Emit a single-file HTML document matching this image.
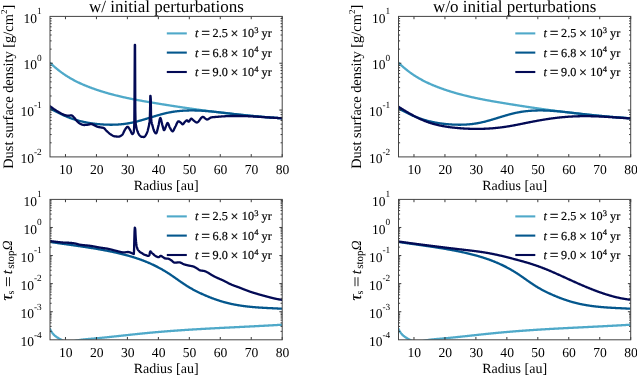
<!DOCTYPE html>
<html><head><meta charset="utf-8"><style>
html,body{margin:0;padding:0;background:#fff;overflow:hidden}
svg{display:block;will-change:transform;text-rendering:geometricPrecision}
</style></head><body>
<svg width="637" height="375" viewBox="0 0 637 375" font-family='"Liberation Serif", serif' fill="#000">
<defs>
<clipPath id="ctl"><rect x="50.00" y="16.40" width="232.20" height="140.50"/></clipPath>
<clipPath id="ctr"><rect x="398.50" y="16.40" width="232.20" height="140.50"/></clipPath>
<clipPath id="cbl"><rect x="50.00" y="199.40" width="232.20" height="140.40"/></clipPath>
<clipPath id="cbr"><rect x="398.50" y="199.40" width="232.20" height="140.40"/></clipPath>
</defs>
<rect width="637" height="375" fill="#fff"/>
<g clip-path="url(#ctl)">
<path d="M49.80,62.53 L50.30,63.02 L50.80,63.50 L51.30,63.97 L51.80,64.44 L52.30,64.90 L52.80,65.36 L53.30,65.81 L53.80,66.25 L54.30,66.69 L54.80,67.13 L55.30,67.55 L55.80,67.98 L56.30,68.40 L56.80,68.81 L57.30,69.22 L57.80,69.62 L58.30,70.02 L58.80,70.41 L59.30,70.80 L59.80,71.18 L60.30,71.56 L60.80,71.93 L61.30,72.30 L61.80,72.67 L62.30,73.02 L62.80,73.38 L63.30,73.73 L63.80,74.08 L64.30,74.42 L64.80,74.75 L65.30,75.09 L65.80,75.42 L66.30,75.74 L66.80,76.06 L67.30,76.38 L67.80,76.69 L68.30,77.00 L68.80,77.30 L69.30,77.60 L69.80,77.90 L70.30,78.19 L70.80,78.48 L71.30,78.77 L71.80,79.05 L72.30,79.33 L72.80,79.60 L73.30,79.88 L73.80,80.14 L74.30,80.41 L74.80,80.67 L75.30,80.93 L75.80,81.19 L76.30,81.44 L76.80,81.69 L77.30,81.94 L77.80,82.18 L78.30,82.42 L78.80,82.66 L79.30,82.89 L79.80,83.13 L80.30,83.36 L80.80,83.58 L81.30,83.81 L81.80,84.03 L82.30,84.25 L82.80,84.47 L83.30,84.69 L83.80,84.90 L84.30,85.11 L84.80,85.32 L85.30,85.53 L85.80,85.73 L86.30,85.93 L86.80,86.13 L87.30,86.33 L87.80,86.53 L88.30,86.73 L88.80,86.92 L89.30,87.11 L89.80,87.30 L90.30,87.49 L90.80,87.68 L91.30,87.87 L91.80,88.05 L92.30,88.23 L92.80,88.41 L93.30,88.59 L93.80,88.77 L94.30,88.95 L94.80,89.13 L95.30,89.30 L95.80,89.47 L96.30,89.65 L96.80,89.82 L97.30,89.99 L97.80,90.15 L98.30,90.32 L98.80,90.48 L99.30,90.65 L99.80,90.81 L100.30,90.97 L100.80,91.13 L101.30,91.29 L101.80,91.45 L102.30,91.60 L102.80,91.76 L103.30,91.91 L103.80,92.06 L104.30,92.21 L104.80,92.36 L105.30,92.51 L105.80,92.66 L106.30,92.80 L106.80,92.95 L107.30,93.09 L107.80,93.24 L108.30,93.38 L108.80,93.52 L109.30,93.66 L109.80,93.80 L110.30,93.93 L110.80,94.07 L111.30,94.20 L111.80,94.34 L112.30,94.47 L112.80,94.60 L113.30,94.73 L113.80,94.86 L114.30,94.99 L114.80,95.12 L115.30,95.25 L115.80,95.37 L116.30,95.50 L116.80,95.62 L117.30,95.74 L117.80,95.87 L118.30,95.99 L118.80,96.11 L119.30,96.23 L119.80,96.35 L120.30,96.46 L120.80,96.58 L121.30,96.70 L121.80,96.81 L122.30,96.92 L122.80,97.04 L123.30,97.15 L123.80,97.26 L124.30,97.37 L124.80,97.48 L125.30,97.59 L125.80,97.70 L126.30,97.81 L126.80,97.92 L127.30,98.02 L127.80,98.13 L128.30,98.23 L128.80,98.34 L129.30,98.44 L129.80,98.54 L130.30,98.65 L130.80,98.75 L131.30,98.85 L131.80,98.95 L132.30,99.05 L132.80,99.15 L133.30,99.24 L133.80,99.34 L134.30,99.44 L134.80,99.54 L135.30,99.63 L135.80,99.73 L136.30,99.82 L136.80,99.92 L137.30,100.01 L137.80,100.10 L138.30,100.20 L138.80,100.29 L139.30,100.38 L139.80,100.47 L140.30,100.56 L140.80,100.65 L141.30,100.74 L141.80,100.83 L142.30,100.92 L142.80,101.01 L143.30,101.10 L143.80,101.19 L144.30,101.28 L144.80,101.36 L145.30,101.45 L145.80,101.54 L146.30,101.62 L146.80,101.71 L147.30,101.80 L147.80,101.88 L148.30,101.97 L148.80,102.05 L149.30,102.14 L149.80,102.22 L150.30,102.30 L150.80,102.39 L151.30,102.47 L151.80,102.56 L152.30,102.64 L152.80,102.72 L153.30,102.80 L153.80,102.89 L154.30,102.97 L154.80,103.05 L155.30,103.13 L155.80,103.22 L156.30,103.30 L156.80,103.38 L157.30,103.46 L157.80,103.54 L158.30,103.63 L158.80,103.71 L159.30,103.79 L159.80,103.87 L160.30,103.95 L160.80,104.03 L161.30,104.11 L161.80,104.19 L162.30,104.27 L162.80,104.35 L163.30,104.43 L163.80,104.51 L164.30,104.59 L164.80,104.67 L165.30,104.75 L165.80,104.83 L166.30,104.91 L166.80,104.99 L167.30,105.07 L167.80,105.15 L168.30,105.23 L168.80,105.31 L169.30,105.38 L169.80,105.46 L170.30,105.54 L170.80,105.62 L171.30,105.70 L171.80,105.77 L172.30,105.85 L172.80,105.93 L173.30,106.01 L173.80,106.08 L174.30,106.16 L174.80,106.24 L175.30,106.32 L175.80,106.39 L176.30,106.47 L176.80,106.54 L177.30,106.62 L177.80,106.70 L178.30,106.77 L178.80,106.85 L179.30,106.92 L179.80,107.00 L180.30,107.07 L180.80,107.15 L181.30,107.22 L181.80,107.30 L182.30,107.37 L182.80,107.45 L183.30,107.52 L183.80,107.60 L184.30,107.67 L184.80,107.74 L185.30,107.82 L185.80,107.89 L186.30,107.97 L186.80,108.04 L187.30,108.11 L187.80,108.18 L188.30,108.26 L188.80,108.33 L189.30,108.40 L189.80,108.47 L190.30,108.55 L190.80,108.62 L191.30,108.69 L191.80,108.76 L192.30,108.83 L192.80,108.90 L193.30,108.97 L193.80,109.05 L194.30,109.12 L194.80,109.19 L195.30,109.26 L195.80,109.33 L196.30,109.40 L196.80,109.47 L197.30,109.54 L197.80,109.61 L198.30,109.67 L198.80,109.74 L199.30,109.81 L199.80,109.88 L200.30,109.95 L200.80,110.02 L201.30,110.09 L201.80,110.15 L202.30,110.22 L202.80,110.29 L203.30,110.36 L203.80,110.42 L204.30,110.49 L204.80,110.56 L205.30,110.62 L205.80,110.69 L206.30,110.76 L206.80,110.82 L207.30,110.89 L207.80,110.96 L208.30,111.02 L208.80,111.09 L209.30,111.15 L209.80,111.22 L210.30,111.28 L210.80,111.35 L211.30,111.41 L211.80,111.47 L212.30,111.54 L212.80,111.60 L213.30,111.67 L213.80,111.73 L214.30,111.79 L214.80,111.85 L215.30,111.92 L215.80,111.98 L216.30,112.04 L216.80,112.10 L217.30,112.17 L217.80,112.23 L218.30,112.29 L218.80,112.35 L219.30,112.41 L219.80,112.47 L220.30,112.53 L220.80,112.59 L221.30,112.65 L221.80,112.71 L222.30,112.77 L222.80,112.83 L223.30,112.89 L223.80,112.95 L224.30,113.01 L224.80,113.07 L225.30,113.13 L225.80,113.19 L226.30,113.25 L226.80,113.30 L227.30,113.36 L227.80,113.42 L228.30,113.48 L228.80,113.53 L229.30,113.59 L229.80,113.65 L230.30,113.70 L230.80,113.76 L231.30,113.82 L231.80,113.87 L232.30,113.93 L232.80,113.98 L233.30,114.04 L233.80,114.09 L234.30,114.15 L234.80,114.20 L235.30,114.26 L235.80,114.31 L236.30,114.36 L236.80,114.42 L237.30,114.47 L237.80,114.52 L238.30,114.58 L238.80,114.63 L239.30,114.68 L239.80,114.73 L240.30,114.79 L240.80,114.84 L241.30,114.89 L241.80,114.94 L242.30,114.99 L242.80,115.04 L243.30,115.09 L243.80,115.14 L244.30,115.19 L244.80,115.24 L245.30,115.29 L245.80,115.34 L246.30,115.39 L246.80,115.44 L247.30,115.49 L247.80,115.54 L248.30,115.58 L248.80,115.63 L249.30,115.68 L249.80,115.73 L250.30,115.78 L250.80,115.82 L251.30,115.87 L251.80,115.91 L252.30,115.96 L252.80,116.01 L253.30,116.05 L253.80,116.10 L254.30,116.14 L254.80,116.19 L255.30,116.23 L255.80,116.28 L256.30,116.32 L256.80,116.37 L257.30,116.41 L257.80,116.45 L258.30,116.50 L258.80,116.54 L259.30,116.58 L259.80,116.62 L260.30,116.67 L260.80,116.71 L261.30,116.75 L261.80,116.79 L262.30,116.83 L262.80,116.87 L263.30,116.91 L263.80,116.95 L264.30,116.99 L264.80,117.03 L265.30,117.07 L265.80,117.11 L266.30,117.15 L266.80,117.19 L267.30,117.23 L267.80,117.27 L268.30,117.30 L268.80,117.34 L269.30,117.38 L269.80,117.42 L270.30,117.45 L270.80,117.49 L271.30,117.53 L271.80,117.56 L272.30,117.60 L272.80,117.63 L273.30,117.67 L273.80,117.70 L274.30,117.74 L274.80,117.77 L275.30,117.81 L275.80,117.84 L276.30,117.87 L276.80,117.91 L277.30,117.94 L277.80,117.97 L278.30,118.00 L278.80,118.04 L279.30,118.07 L279.80,118.10 L280.30,118.13 L280.80,118.16 L281.30,118.19 L281.80,118.22 L282.20,118.25" stroke="#4fa9c9" fill="none" stroke-width="2.3" stroke-linejoin="round" stroke-linecap="butt"/>
<path d="M49.80,108.47 L50.30,108.73 L50.80,108.99 L51.30,109.25 L51.80,109.52 L52.30,109.78 L52.80,110.04 L53.30,110.30 L53.80,110.55 L54.30,110.81 L54.80,111.07 L55.30,111.32 L55.80,111.58 L56.30,111.83 L56.80,112.08 L57.30,112.33 L57.80,112.58 L58.30,112.82 L58.80,113.07 L59.30,113.31 L59.80,113.55 L60.30,113.79 L60.80,114.02 L61.30,114.26 L61.80,114.49 L62.30,114.72 L62.80,114.95 L63.30,115.18 L63.80,115.40 L64.30,115.62 L64.80,115.84 L65.30,116.06 L65.80,116.27 L66.30,116.48 L66.80,116.69 L67.30,116.89 L67.80,117.09 L68.30,117.29 L68.80,117.49 L69.30,117.68 L69.80,117.87 L70.30,118.05 L70.80,118.23 L71.30,118.41 L71.80,118.59 L72.30,118.76 L72.80,118.93 L73.30,119.10 L73.80,119.26 L74.30,119.42 L74.80,119.58 L75.30,119.74 L75.80,119.89 L76.30,120.04 L76.80,120.18 L77.30,120.33 L77.80,120.47 L78.30,120.60 L78.80,120.74 L79.30,120.87 L79.80,121.00 L80.30,121.13 L80.80,121.25 L81.30,121.37 L81.80,121.49 L82.30,121.61 L82.80,121.72 L83.30,121.83 L83.80,121.94 L84.30,122.05 L84.80,122.15 L85.30,122.25 L85.80,122.35 L86.30,122.45 L86.80,122.54 L87.30,122.63 L87.80,122.72 L88.30,122.81 L88.80,122.89 L89.30,122.97 L89.80,123.06 L90.30,123.13 L90.80,123.21 L91.30,123.28 L91.80,123.36 L92.30,123.43 L92.80,123.49 L93.30,123.56 L93.80,123.62 L94.30,123.69 L94.80,123.75 L95.30,123.80 L95.80,123.86 L96.30,123.91 L96.80,123.97 L97.30,124.02 L97.80,124.07 L98.30,124.11 L98.80,124.16 L99.30,124.20 L99.80,124.25 L100.30,124.29 L100.80,124.33 L101.30,124.36 L101.80,124.40 L102.30,124.44 L102.80,124.47 L103.30,124.50 L103.80,124.53 L104.30,124.55 L104.80,124.58 L105.30,124.60 L105.80,124.63 L106.30,124.64 L106.80,124.66 L107.30,124.68 L107.80,124.69 L108.30,124.71 L108.80,124.72 L109.30,124.72 L109.80,124.73 L110.30,124.73 L110.80,124.74 L111.30,124.74 L111.80,124.73 L112.30,124.73 L112.80,124.72 L113.30,124.71 L113.80,124.70 L114.30,124.69 L114.80,124.68 L115.30,124.66 L115.80,124.64 L116.30,124.62 L116.80,124.59 L117.30,124.57 L117.80,124.54 L118.30,124.50 L118.80,124.47 L119.30,124.43 L119.80,124.40 L120.30,124.36 L120.80,124.31 L121.30,124.27 L121.80,124.22 L122.30,124.17 L122.80,124.11 L123.30,124.06 L123.80,124.00 L124.30,123.93 L124.80,123.87 L125.30,123.80 L125.80,123.73 L126.30,123.66 L126.80,123.59 L127.30,123.51 L127.80,123.43 L128.30,123.34 L128.80,123.26 L129.30,123.17 L129.80,123.08 L130.30,122.98 L130.80,122.88 L131.30,122.78 L131.80,122.68 L132.30,122.57 L132.80,122.47 L133.30,122.35 L133.80,122.24 L134.30,122.12 L134.80,122.00 L135.30,121.88 L135.80,121.76 L136.30,121.63 L136.80,121.51 L137.30,121.38 L137.80,121.25 L138.30,121.11 L138.80,120.98 L139.30,120.84 L139.80,120.70 L140.30,120.56 L140.80,120.42 L141.30,120.28 L141.80,120.14 L142.30,119.99 L142.80,119.84 L143.30,119.70 L143.80,119.55 L144.30,119.40 L144.80,119.25 L145.30,119.10 L145.80,118.95 L146.30,118.80 L146.80,118.64 L147.30,118.49 L147.80,118.34 L148.30,118.18 L148.80,118.03 L149.30,117.87 L149.80,117.72 L150.30,117.57 L150.80,117.41 L151.30,117.26 L151.80,117.10 L152.30,116.95 L152.80,116.80 L153.30,116.64 L153.80,116.49 L154.30,116.34 L154.80,116.19 L155.30,116.04 L155.80,115.89 L156.30,115.74 L156.80,115.59 L157.30,115.45 L157.80,115.30 L158.30,115.16 L158.80,115.02 L159.30,114.88 L159.80,114.74 L160.30,114.60 L160.80,114.46 L161.30,114.32 L161.80,114.19 L162.30,114.06 L162.80,113.93 L163.30,113.80 L163.80,113.68 L164.30,113.55 L164.80,113.43 L165.30,113.31 L165.80,113.20 L166.30,113.08 L166.80,112.97 L167.30,112.86 L167.80,112.75 L168.30,112.65 L168.80,112.55 L169.30,112.45 L169.80,112.36 L170.30,112.26 L170.80,112.17 L171.30,112.08 L171.80,112.00 L172.30,111.92 L172.80,111.84 L173.30,111.76 L173.80,111.68 L174.30,111.61 L174.80,111.54 L175.30,111.47 L175.80,111.41 L176.30,111.35 L176.80,111.29 L177.30,111.23 L177.80,111.17 L178.30,111.12 L178.80,111.07 L179.30,111.02 L179.80,110.97 L180.30,110.93 L180.80,110.88 L181.30,110.84 L181.80,110.80 L182.30,110.77 L182.80,110.73 L183.30,110.70 L183.80,110.67 L184.30,110.64 L184.80,110.62 L185.30,110.59 L185.80,110.57 L186.30,110.55 L186.80,110.53 L187.30,110.52 L187.80,110.50 L188.30,110.49 L188.80,110.48 L189.30,110.47 L189.80,110.46 L190.30,110.46 L190.80,110.45 L191.30,110.45 L191.80,110.45 L192.30,110.45 L192.80,110.45 L193.30,110.46 L193.80,110.46 L194.30,110.47 L194.80,110.48 L195.30,110.49 L195.80,110.50 L196.30,110.52 L196.80,110.53 L197.30,110.55 L197.80,110.57 L198.30,110.58 L198.80,110.60 L199.30,110.63 L199.80,110.65 L200.30,110.67 L200.80,110.70 L201.30,110.72 L201.80,110.75 L202.30,110.78 L202.80,110.81 L203.30,110.84 L203.80,110.88 L204.30,110.91 L204.80,110.94 L205.30,110.98 L205.80,111.02 L206.30,111.05 L206.80,111.09 L207.30,111.13 L207.80,111.17 L208.30,111.21 L208.80,111.25 L209.30,111.30 L209.80,111.34 L210.30,111.39 L210.80,111.43 L211.30,111.48 L211.80,111.52 L212.30,111.57 L212.80,111.62 L213.30,111.67 L213.80,111.72 L214.30,111.77 L214.80,111.82 L215.30,111.87 L215.80,111.92 L216.30,111.97 L216.80,112.03 L217.30,112.08 L217.80,112.13 L218.30,112.19 L218.80,112.24 L219.30,112.30 L219.80,112.35 L220.30,112.41 L220.80,112.47 L221.30,112.52 L221.80,112.58 L222.30,112.64 L222.80,112.69 L223.30,112.75 L223.80,112.81 L224.30,112.87 L224.80,112.92 L225.30,112.98 L225.80,113.04 L226.30,113.10 L226.80,113.16 L227.30,113.21 L227.80,113.27 L228.30,113.33 L228.80,113.39 L229.30,113.44 L229.80,113.50 L230.30,113.56 L230.80,113.62 L231.30,113.68 L231.80,113.73 L232.30,113.79 L232.80,113.85 L233.30,113.90 L233.80,113.96 L234.30,114.02 L234.80,114.07 L235.30,114.13 L235.80,114.19 L236.30,114.24 L236.80,114.30 L237.30,114.35 L237.80,114.41 L238.30,114.46 L238.80,114.52 L239.30,114.57 L239.80,114.63 L240.30,114.68 L240.80,114.74 L241.30,114.79 L241.80,114.84 L242.30,114.90 L242.80,114.95 L243.30,115.01 L243.80,115.06 L244.30,115.11 L244.80,115.16 L245.30,115.22 L245.80,115.27 L246.30,115.32 L246.80,115.37 L247.30,115.42 L247.80,115.48 L248.30,115.53 L248.80,115.58 L249.30,115.63 L249.80,115.68 L250.30,115.73 L250.80,115.78 L251.30,115.83 L251.80,115.88 L252.30,115.93 L252.80,115.98 L253.30,116.02 L253.80,116.07 L254.30,116.12 L254.80,116.17 L255.30,116.22 L255.80,116.26 L256.30,116.31 L256.80,116.36 L257.30,116.40 L257.80,116.45 L258.30,116.50 L258.80,116.54 L259.30,116.59 L259.80,116.63 L260.30,116.68 L260.80,116.72 L261.30,116.77 L261.80,116.81 L262.30,116.85 L262.80,116.90 L263.30,116.94 L263.80,116.98 L264.30,117.02 L264.80,117.07 L265.30,117.11 L265.80,117.15 L266.30,117.19 L266.80,117.23 L267.30,117.27 L267.80,117.31 L268.30,117.35 L268.80,117.39 L269.30,117.43 L269.80,117.47 L270.30,117.50 L270.80,117.54 L271.30,117.58 L271.80,117.62 L272.30,117.65 L272.80,117.69 L273.30,117.72 L273.80,117.76 L274.30,117.79 L274.80,117.83 L275.30,117.86 L275.80,117.90 L276.30,117.93 L276.80,117.96 L277.30,118.00 L277.80,118.03 L278.30,118.06 L278.80,118.09 L279.30,118.12 L279.80,118.15 L280.30,118.18 L280.80,118.21 L281.30,118.24 L281.80,118.27 L282.20,118.29" stroke="#04578d" fill="none" stroke-width="2.3" stroke-linejoin="round" stroke-linecap="butt"/>
<path d="M49.80,106.00 L50.05,106.20 L50.30,106.40 L50.55,106.59 L50.80,106.78 L51.05,106.98 L51.30,107.17 L51.55,107.36 L51.80,107.54 L52.05,107.73 L52.30,107.92 L52.55,108.10 L52.80,108.28 L53.05,108.46 L53.30,108.64 L53.55,108.81 L53.80,108.99 L54.05,109.16 L54.30,109.33 L54.55,109.50 L54.80,109.67 L55.05,109.84 L55.30,110.00 L55.55,110.17 L55.80,110.33 L56.05,110.49 L56.30,110.65 L56.55,110.81 L56.80,110.96 L57.05,111.12 L57.30,111.27 L57.55,111.42 L57.80,111.57 L58.05,111.72 L58.30,111.87 L58.55,112.01 L58.80,112.16 L59.05,112.30 L59.30,112.44 L59.55,112.59 L59.80,112.73 L60.05,112.87 L60.30,113.01 L60.55,113.14 L60.80,113.28 L61.05,113.41 L61.30,113.54 L61.55,113.67 L61.80,113.80 L62.05,113.92 L62.30,114.04 L62.55,114.15 L62.80,114.26 L63.05,114.36 L63.30,114.47 L63.55,114.58 L63.80,114.68 L64.05,114.79 L64.30,114.89 L64.55,114.98 L64.80,115.07 L65.05,115.16 L65.30,115.23 L65.55,115.30 L65.80,115.36 L66.05,115.41 L66.30,115.45 L66.55,115.50 L66.80,115.54 L67.05,115.58 L67.30,115.61 L67.55,115.64 L67.80,115.67 L68.05,115.69 L68.30,115.70 L68.55,115.70 L68.80,115.69 L69.05,115.66 L69.30,115.62 L69.55,115.57 L69.80,115.51 L70.05,115.46 L70.30,115.40 L70.55,115.36 L70.80,115.32 L71.05,115.30 L71.30,115.30 L71.55,115.35 L71.80,115.45 L72.05,115.59 L72.30,115.77 L72.55,115.98 L72.80,116.21 L73.05,116.45 L73.30,116.70 L73.55,116.96 L73.80,117.21 L74.05,117.45 L74.30,117.71 L74.55,118.00 L74.80,118.31 L75.05,118.64 L75.30,118.99 L75.55,119.33 L75.80,119.68 L76.05,120.01 L76.30,120.33 L76.55,120.63 L76.80,120.90 L77.05,121.15 L77.30,121.40 L77.55,121.65 L77.80,121.90 L78.05,122.13 L78.30,122.36 L78.55,122.58 L78.80,122.79 L79.05,122.99 L79.30,123.18 L79.55,123.34 L79.80,123.49 L80.05,123.63 L80.30,123.75 L80.55,123.88 L80.80,124.00 L81.05,124.13 L81.30,124.25 L81.55,124.36 L81.80,124.47 L82.05,124.57 L82.30,124.67 L82.55,124.75 L82.80,124.82 L83.05,124.89 L83.30,124.94 L83.55,124.97 L83.80,124.99 L84.05,125.00 L84.30,125.00 L84.55,124.99 L84.80,124.98 L85.05,124.97 L85.30,124.96 L85.55,124.94 L85.80,124.92 L86.05,124.90 L86.30,124.88 L86.55,124.86 L86.80,124.83 L87.05,124.81 L87.30,124.78 L87.55,124.75 L87.80,124.72 L88.05,124.69 L88.30,124.65 L88.55,124.60 L88.80,124.54 L89.05,124.47 L89.30,124.40 L89.55,124.32 L89.80,124.25 L90.05,124.18 L90.30,124.11 L90.55,124.06 L90.80,124.03 L91.05,124.00 L91.30,124.00 L91.55,124.03 L91.80,124.08 L92.05,124.15 L92.30,124.25 L92.55,124.36 L92.80,124.48 L93.05,124.60 L93.30,124.74 L93.55,124.87 L93.80,125.01 L94.05,125.14 L94.30,125.26 L94.55,125.37 L94.80,125.49 L95.05,125.61 L95.30,125.74 L95.55,125.87 L95.80,126.01 L96.05,126.14 L96.30,126.27 L96.55,126.39 L96.80,126.50 L97.05,126.61 L97.30,126.70 L97.55,126.79 L97.80,126.85 L98.05,126.92 L98.30,126.97 L98.55,127.03 L98.80,127.08 L99.05,127.12 L99.30,127.17 L99.55,127.21 L99.80,127.26 L100.05,127.31 L100.30,127.36 L100.55,127.40 L100.80,127.44 L101.05,127.47 L101.30,127.51 L101.55,127.54 L101.80,127.58 L102.05,127.62 L102.30,127.66 L102.55,127.71 L102.80,127.76 L103.05,127.82 L103.30,127.88 L103.55,127.95 L103.80,128.04 L104.05,128.18 L104.30,128.37 L104.55,128.61 L104.80,128.87 L105.05,129.16 L105.30,129.47 L105.55,129.77 L105.80,130.07 L106.05,130.35 L106.30,130.60 L106.55,130.83 L106.80,131.07 L107.05,131.31 L107.30,131.54 L107.55,131.78 L107.80,132.02 L108.05,132.25 L108.30,132.48 L108.55,132.71 L108.80,132.93 L109.05,133.14 L109.30,133.35 L109.55,133.55 L109.80,133.75 L110.05,133.93 L110.30,134.10 L110.55,134.27 L110.80,134.43 L111.05,134.59 L111.30,134.75 L111.55,134.91 L111.80,135.07 L112.05,135.22 L112.30,135.38 L112.55,135.53 L112.80,135.67 L113.05,135.80 L113.30,135.92 L113.55,136.04 L113.80,136.14 L114.05,136.22 L114.30,136.30 L114.55,136.35 L114.80,136.39 L115.05,136.41 L115.30,136.43 L115.55,136.45 L115.80,136.47 L116.05,136.49 L116.30,136.51 L116.55,136.52 L116.80,136.54 L117.05,136.55 L117.30,136.56 L117.55,136.57 L117.80,136.58 L118.05,136.59 L118.30,136.59 L118.55,136.60 L118.80,136.60 L119.05,136.60 L119.30,136.58 L119.55,136.51 L119.80,136.39 L120.05,136.26 L120.30,136.11 L120.55,135.97 L120.80,135.83 L121.05,135.69 L121.30,135.53 L121.55,135.35 L121.80,135.16 L122.05,134.94 L122.30,134.70 L122.55,134.42 L122.80,134.05 L123.05,133.59 L123.30,133.08 L123.55,132.53 L123.80,131.97 L124.05,131.41 L124.30,130.88 L124.55,130.40 L124.80,130.00 L125.05,129.63 L125.30,129.24 L125.55,128.85 L125.80,128.47 L126.05,128.10 L126.30,127.76 L126.55,127.46 L126.80,127.20 L127.05,127.00 L127.30,126.86 L127.55,126.80 L127.80,126.84 L128.05,126.98 L128.30,127.21 L128.55,127.51 L128.80,127.86 L129.05,128.26 L129.30,128.67 L129.55,129.09 L129.80,129.50 L130.05,129.88 L130.30,130.32 L130.55,130.84 L130.80,131.41 L131.05,131.99 L131.30,132.56 L131.55,133.08 L131.80,133.51 L132.05,133.82 L132.30,133.98 L132.55,133.98 L132.80,133.84 L133.05,133.58 L133.30,133.21 L133.55,132.71 L133.80,131.68 L134.05,128.77 L134.30,123.09 L134.55,90.91 L134.80,45.00 L135.05,45.00 L135.30,109.69 L135.55,121.65 L135.80,124.35 L136.05,125.82 L136.30,127.00 L136.55,128.20 L136.80,129.18 L137.05,130.00 L137.30,130.73 L137.55,131.40 L137.80,132.06 L138.05,132.67 L138.30,133.24 L138.55,133.76 L138.80,134.21 L139.05,134.60 L139.30,134.92 L139.55,135.22 L139.80,135.51 L140.05,135.78 L140.30,136.03 L140.55,136.25 L140.80,136.44 L141.05,136.60 L141.30,136.72 L141.55,136.79 L141.80,136.83 L142.05,136.86 L142.30,136.89 L142.55,136.92 L142.80,136.95 L143.05,136.97 L143.30,136.98 L143.55,136.99 L143.80,137.00 L144.05,137.00 L144.30,136.93 L144.55,136.78 L144.80,136.54 L145.05,136.25 L145.30,135.90 L145.55,135.50 L145.80,135.08 L146.05,134.63 L146.30,134.18 L146.55,133.71 L146.80,133.17 L147.05,132.55 L147.30,131.86 L147.55,131.08 L147.80,130.23 L148.05,129.30 L148.30,128.30 L148.55,127.22 L148.80,126.15 L149.05,125.10 L149.30,123.79 L149.55,121.96 L149.80,119.33 L150.05,110.20 L150.30,96.00 L150.55,96.00 L150.80,99.22 L151.05,116.61 L151.30,120.03 L151.55,121.90 L151.80,123.21 L152.05,124.16 L152.30,124.96 L152.55,125.81 L152.80,126.79 L153.05,127.74 L153.30,128.65 L153.55,129.48 L153.80,130.24 L154.05,130.89 L154.30,131.42 L154.55,131.85 L154.80,132.25 L155.05,132.63 L155.30,132.95 L155.55,133.20 L155.80,133.36 L156.05,133.39 L156.30,133.20 L156.55,132.76 L156.80,132.12 L157.05,131.32 L157.30,130.39 L157.55,129.40 L157.80,128.36 L158.05,127.34 L158.30,126.37 L158.55,125.40 L158.80,124.19 L159.05,122.82 L159.30,121.42 L159.55,120.11 L159.80,119.02 L160.05,118.28 L160.30,118.00 L160.55,118.20 L160.80,118.74 L161.05,119.56 L161.30,120.56 L161.55,121.67 L161.80,122.81 L162.05,123.90 L162.30,124.87 L162.55,125.70 L162.80,126.64 L163.05,127.62 L163.30,128.55 L163.55,129.35 L163.80,129.93 L164.05,130.19 L164.30,130.12 L164.55,129.81 L164.80,129.32 L165.05,128.70 L165.30,128.00 L165.55,127.27 L165.80,126.56 L166.05,125.93 L166.30,125.39 L166.55,124.80 L166.80,124.19 L167.05,123.63 L167.30,123.21 L167.55,123.01 L167.80,123.07 L168.05,123.35 L168.30,123.80 L168.55,124.37 L168.80,125.02 L169.05,125.70 L169.30,126.38 L169.55,127.00 L169.80,127.53 L170.05,127.95 L170.30,128.38 L170.55,128.83 L170.80,129.28 L171.05,129.72 L171.30,130.13 L171.55,130.50 L171.80,130.81 L172.05,131.06 L172.30,131.22 L172.55,131.30 L172.80,131.25 L173.05,131.07 L173.30,130.76 L173.55,130.36 L173.80,129.88 L174.05,129.36 L174.30,128.80 L174.55,128.23 L174.80,127.68 L175.05,127.16 L175.30,126.70 L175.55,126.25 L175.80,125.74 L176.05,125.20 L176.30,124.65 L176.55,124.08 L176.80,123.53 L177.05,123.01 L177.30,122.53 L177.55,122.11 L177.80,121.76 L178.05,121.50 L178.30,121.34 L178.55,121.30 L178.80,121.34 L179.05,121.42 L179.30,121.54 L179.55,121.69 L179.80,121.86 L180.05,122.05 L180.30,122.26 L180.55,122.46 L180.80,122.67 L181.05,122.86 L181.30,123.07 L181.55,123.34 L181.80,123.63 L182.05,123.91 L182.30,124.14 L182.55,124.27 L182.80,124.29 L183.05,124.18 L183.30,123.97 L183.55,123.68 L183.80,123.35 L184.05,122.98 L184.30,122.62 L184.55,122.28 L184.80,122.00 L185.05,121.76 L185.30,121.51 L185.55,121.26 L185.80,121.01 L186.05,120.78 L186.30,120.58 L186.55,120.42 L186.80,120.33 L187.05,120.30 L187.30,120.43 L187.55,120.68 L187.80,121.00 L188.05,121.32 L188.30,121.57 L188.55,121.70 L188.80,121.65 L189.05,121.48 L189.30,121.20 L189.55,120.85 L189.80,120.45 L190.05,120.03 L190.30,119.63 L190.55,119.27 L190.80,118.97 L191.05,118.77 L191.30,118.70 L191.55,118.74 L191.80,118.87 L192.05,119.05 L192.30,119.27 L192.55,119.52 L192.80,119.77 L193.05,120.01 L193.30,120.23 L193.55,120.41 L193.80,120.60 L194.05,120.80 L194.30,121.01 L194.55,121.22 L194.80,121.42 L195.05,121.63 L195.30,121.82 L195.55,121.99 L195.80,122.15 L196.05,122.28 L196.30,122.39 L196.55,122.46 L196.80,122.50 L197.05,122.49 L197.30,122.43 L197.55,122.31 L197.80,122.15 L198.05,121.94 L198.30,121.70 L198.55,121.43 L198.80,121.13 L199.05,120.81 L199.30,120.47 L199.55,120.13 L199.80,119.77 L200.05,119.42 L200.30,119.06 L200.55,118.72 L200.80,118.39 L201.05,118.09 L201.30,117.80 L201.55,117.55 L201.80,117.33 L202.05,117.15 L202.30,117.01 L202.55,116.93 L202.80,116.90 L203.05,116.93 L203.30,117.00 L203.55,117.11 L203.80,117.26 L204.05,117.43 L204.30,117.63 L204.55,117.84 L204.80,118.06 L205.05,118.29 L205.30,118.51 L205.55,118.73 L205.80,118.93 L206.05,119.11 L206.30,119.26 L206.55,119.38 L206.80,119.46 L207.05,119.50 L207.30,119.49 L207.55,119.44 L207.80,119.36 L208.05,119.25 L208.30,119.12 L208.55,118.98 L208.80,118.81 L209.05,118.64 L209.30,118.47 L209.55,118.29 L209.80,118.11 L210.05,117.95 L210.30,117.80 L210.55,117.66 L210.80,117.55 L211.05,117.46 L211.30,117.40 L211.55,117.36 L211.80,117.32 L212.05,117.29 L212.30,117.25 L212.55,117.22 L212.80,117.19 L213.05,117.17 L213.30,117.14 L213.55,117.12 L213.80,117.09 L214.05,117.07 L214.30,117.05 L214.55,117.03 L214.80,117.01 L215.05,116.99 L215.30,116.98 L215.55,116.96 L215.80,116.94 L216.05,116.92 L216.30,116.91 L216.55,116.89 L216.80,116.87 L217.05,116.85 L217.30,116.83 L217.55,116.81 L217.80,116.79 L218.05,116.77 L218.30,116.75 L218.55,116.73 L218.80,116.70 L219.05,116.68 L219.30,116.66 L219.55,116.64 L219.80,116.62 L220.05,116.60 L220.30,116.57 L220.55,116.55 L220.80,116.53 L221.05,116.51 L221.30,116.49 L221.55,116.47 L221.80,116.45 L222.05,116.43 L222.30,116.41 L222.55,116.40 L222.80,116.38 L223.05,116.36 L223.30,116.35 L223.55,116.33 L223.80,116.32 L224.05,116.30 L224.30,116.29 L224.55,116.28 L224.80,116.26 L225.05,116.25 L225.30,116.24 L225.55,116.22 L225.80,116.21 L226.05,116.20 L226.30,116.18 L226.55,116.17 L226.80,116.16 L227.05,116.15 L227.30,116.13 L227.55,116.12 L227.80,116.11 L228.05,116.10 L228.30,116.09 L228.55,116.08 L228.80,116.07 L229.05,116.06 L229.30,116.05 L229.55,116.04 L229.80,116.03 L230.05,116.03 L230.30,116.02 L230.55,116.02 L230.80,116.01 L231.05,116.01 L231.30,116.00 L231.55,116.00 L231.80,116.00 L232.05,116.00 L232.30,116.00 L232.55,116.00 L232.80,116.00 L233.05,116.00 L233.30,116.00 L233.55,116.00 L233.80,116.00 L234.05,116.00 L234.30,116.00 L234.55,116.00 L234.80,116.00 L235.05,116.00 L235.30,116.00 L235.55,116.00 L235.80,116.00 L236.05,116.00 L236.30,116.00 L236.55,116.00 L236.80,116.00 L237.05,116.00 L237.30,116.00 L237.55,116.00 L237.80,116.00 L238.05,116.00 L238.30,116.00 L238.55,116.00 L238.80,116.00 L239.05,116.00 L239.30,116.00 L239.55,116.00 L239.80,116.00 L240.05,116.00 L240.30,116.00 L240.55,116.00 L240.80,116.00 L241.05,116.01 L241.30,116.01 L241.55,116.01 L241.80,116.01 L242.05,116.02 L242.30,116.02 L242.55,116.03 L242.80,116.03 L243.05,116.04 L243.30,116.05 L243.55,116.05 L243.80,116.06 L244.05,116.07 L244.30,116.08 L244.55,116.09 L244.80,116.10 L245.05,116.10 L245.30,116.11 L245.55,116.12 L245.80,116.13 L246.05,116.14 L246.30,116.15 L246.55,116.17 L246.80,116.18 L247.05,116.19 L247.30,116.20 L247.55,116.21 L247.80,116.22 L248.05,116.23 L248.30,116.25 L248.55,116.26 L248.80,116.27 L249.05,116.28 L249.30,116.30 L249.55,116.31 L249.80,116.32 L250.05,116.33 L250.30,116.35 L250.55,116.36 L250.80,116.37 L251.05,116.38 L251.30,116.40 L251.55,116.41 L251.80,116.42 L252.05,116.43 L252.30,116.45 L252.55,116.46 L252.80,116.47 L253.05,116.48 L253.30,116.50 L253.55,116.51 L253.80,116.52 L254.05,116.53 L254.30,116.54 L254.55,116.56 L254.80,116.57 L255.05,116.58 L255.30,116.60 L255.55,116.61 L255.80,116.62 L256.05,116.64 L256.30,116.65 L256.55,116.67 L256.80,116.68 L257.05,116.70 L257.30,116.71 L257.55,116.73 L257.80,116.74 L258.05,116.76 L258.30,116.77 L258.55,116.79 L258.80,116.81 L259.05,116.82 L259.30,116.84 L259.55,116.85 L259.80,116.87 L260.05,116.89 L260.30,116.90 L260.55,116.92 L260.80,116.94 L261.05,116.95 L261.30,116.97 L261.55,116.99 L261.80,117.00 L262.05,117.02 L262.30,117.04 L262.55,117.05 L262.80,117.07 L263.05,117.09 L263.30,117.10 L263.55,117.12 L263.80,117.14 L264.05,117.15 L264.30,117.17 L264.55,117.19 L264.80,117.20 L265.05,117.22 L265.30,117.24 L265.55,117.25 L265.80,117.27 L266.05,117.28 L266.30,117.30 L266.55,117.32 L266.80,117.33 L267.05,117.35 L267.30,117.36 L267.55,117.38 L267.80,117.39 L268.05,117.41 L268.30,117.42 L268.55,117.44 L268.80,117.46 L269.05,117.47 L269.30,117.49 L269.55,117.50 L269.80,117.52 L270.05,117.53 L270.30,117.55 L270.55,117.57 L270.80,117.58 L271.05,117.60 L271.30,117.61 L271.55,117.63 L271.80,117.64 L272.05,117.66 L272.30,117.68 L272.55,117.69 L272.80,117.71 L273.05,117.72 L273.30,117.74 L273.55,117.75 L273.80,117.77 L274.05,117.79 L274.30,117.80 L274.55,117.82 L274.80,117.83 L275.05,117.85 L275.30,117.86 L275.55,117.88 L275.80,117.90 L276.05,117.91 L276.30,117.93 L276.55,117.94 L276.80,117.96 L277.05,117.97 L277.30,117.99 L277.55,118.01 L277.80,118.02 L278.05,118.04 L278.30,118.05 L278.55,118.07 L278.80,118.08 L279.05,118.10 L279.30,118.12 L279.55,118.13 L279.80,118.15 L280.05,118.16 L280.30,118.18 L280.55,118.20 L280.80,118.21 L281.05,118.23 L281.30,118.24 L281.55,118.26 L281.80,118.27 L282.05,118.29 L282.20,118.30" stroke="#030a55" fill="none" stroke-width="2.3" stroke-linejoin="round" stroke-linecap="butt"/>
</g>
<g clip-path="url(#ctr)">
<path d="M398.30,62.53 L398.80,63.02 L399.30,63.50 L399.80,63.97 L400.30,64.44 L400.80,64.90 L401.30,65.36 L401.80,65.81 L402.30,66.25 L402.80,66.69 L403.30,67.13 L403.80,67.55 L404.30,67.98 L404.80,68.40 L405.30,68.81 L405.80,69.22 L406.30,69.62 L406.80,70.02 L407.30,70.41 L407.80,70.80 L408.30,71.18 L408.80,71.56 L409.30,71.93 L409.80,72.30 L410.30,72.67 L410.80,73.02 L411.30,73.38 L411.80,73.73 L412.30,74.08 L412.80,74.42 L413.30,74.75 L413.80,75.09 L414.30,75.42 L414.80,75.74 L415.30,76.06 L415.80,76.38 L416.30,76.69 L416.80,77.00 L417.30,77.30 L417.80,77.60 L418.30,77.90 L418.80,78.19 L419.30,78.48 L419.80,78.77 L420.30,79.05 L420.80,79.33 L421.30,79.60 L421.80,79.88 L422.30,80.14 L422.80,80.41 L423.30,80.67 L423.80,80.93 L424.30,81.19 L424.80,81.44 L425.30,81.69 L425.80,81.94 L426.30,82.18 L426.80,82.42 L427.30,82.66 L427.80,82.89 L428.30,83.13 L428.80,83.36 L429.30,83.58 L429.80,83.81 L430.30,84.03 L430.80,84.25 L431.30,84.47 L431.80,84.69 L432.30,84.90 L432.80,85.11 L433.30,85.32 L433.80,85.53 L434.30,85.73 L434.80,85.93 L435.30,86.13 L435.80,86.33 L436.30,86.53 L436.80,86.73 L437.30,86.92 L437.80,87.11 L438.30,87.30 L438.80,87.49 L439.30,87.68 L439.80,87.87 L440.30,88.05 L440.80,88.23 L441.30,88.41 L441.80,88.59 L442.30,88.77 L442.80,88.95 L443.30,89.13 L443.80,89.30 L444.30,89.47 L444.80,89.65 L445.30,89.82 L445.80,89.99 L446.30,90.15 L446.80,90.32 L447.30,90.48 L447.80,90.65 L448.30,90.81 L448.80,90.97 L449.30,91.13 L449.80,91.29 L450.30,91.45 L450.80,91.60 L451.30,91.76 L451.80,91.91 L452.30,92.06 L452.80,92.21 L453.30,92.36 L453.80,92.51 L454.30,92.66 L454.80,92.80 L455.30,92.95 L455.80,93.09 L456.30,93.24 L456.80,93.38 L457.30,93.52 L457.80,93.66 L458.30,93.80 L458.80,93.93 L459.30,94.07 L459.80,94.20 L460.30,94.34 L460.80,94.47 L461.30,94.60 L461.80,94.73 L462.30,94.86 L462.80,94.99 L463.30,95.12 L463.80,95.25 L464.30,95.37 L464.80,95.50 L465.30,95.62 L465.80,95.74 L466.30,95.87 L466.80,95.99 L467.30,96.11 L467.80,96.23 L468.30,96.35 L468.80,96.46 L469.30,96.58 L469.80,96.70 L470.30,96.81 L470.80,96.92 L471.30,97.04 L471.80,97.15 L472.30,97.26 L472.80,97.37 L473.30,97.48 L473.80,97.59 L474.30,97.70 L474.80,97.81 L475.30,97.92 L475.80,98.02 L476.30,98.13 L476.80,98.23 L477.30,98.34 L477.80,98.44 L478.30,98.54 L478.80,98.65 L479.30,98.75 L479.80,98.85 L480.30,98.95 L480.80,99.05 L481.30,99.15 L481.80,99.24 L482.30,99.34 L482.80,99.44 L483.30,99.54 L483.80,99.63 L484.30,99.73 L484.80,99.82 L485.30,99.92 L485.80,100.01 L486.30,100.10 L486.80,100.20 L487.30,100.29 L487.80,100.38 L488.30,100.47 L488.80,100.56 L489.30,100.65 L489.80,100.74 L490.30,100.83 L490.80,100.92 L491.30,101.01 L491.80,101.10 L492.30,101.19 L492.80,101.28 L493.30,101.36 L493.80,101.45 L494.30,101.54 L494.80,101.62 L495.30,101.71 L495.80,101.80 L496.30,101.88 L496.80,101.97 L497.30,102.05 L497.80,102.14 L498.30,102.22 L498.80,102.30 L499.30,102.39 L499.80,102.47 L500.30,102.56 L500.80,102.64 L501.30,102.72 L501.80,102.80 L502.30,102.89 L502.80,102.97 L503.30,103.05 L503.80,103.13 L504.30,103.22 L504.80,103.30 L505.30,103.38 L505.80,103.46 L506.30,103.54 L506.80,103.63 L507.30,103.71 L507.80,103.79 L508.30,103.87 L508.80,103.95 L509.30,104.03 L509.80,104.11 L510.30,104.19 L510.80,104.27 L511.30,104.35 L511.80,104.43 L512.30,104.51 L512.80,104.59 L513.30,104.67 L513.80,104.75 L514.30,104.83 L514.80,104.91 L515.30,104.99 L515.80,105.07 L516.30,105.15 L516.80,105.23 L517.30,105.31 L517.80,105.38 L518.30,105.46 L518.80,105.54 L519.30,105.62 L519.80,105.70 L520.30,105.77 L520.80,105.85 L521.30,105.93 L521.80,106.01 L522.30,106.08 L522.80,106.16 L523.30,106.24 L523.80,106.32 L524.30,106.39 L524.80,106.47 L525.30,106.54 L525.80,106.62 L526.30,106.70 L526.80,106.77 L527.30,106.85 L527.80,106.92 L528.30,107.00 L528.80,107.07 L529.30,107.15 L529.80,107.22 L530.30,107.30 L530.80,107.37 L531.30,107.45 L531.80,107.52 L532.30,107.60 L532.80,107.67 L533.30,107.74 L533.80,107.82 L534.30,107.89 L534.80,107.97 L535.30,108.04 L535.80,108.11 L536.30,108.18 L536.80,108.26 L537.30,108.33 L537.80,108.40 L538.30,108.47 L538.80,108.55 L539.30,108.62 L539.80,108.69 L540.30,108.76 L540.80,108.83 L541.30,108.90 L541.80,108.97 L542.30,109.05 L542.80,109.12 L543.30,109.19 L543.80,109.26 L544.30,109.33 L544.80,109.40 L545.30,109.47 L545.80,109.54 L546.30,109.61 L546.80,109.67 L547.30,109.74 L547.80,109.81 L548.30,109.88 L548.80,109.95 L549.30,110.02 L549.80,110.09 L550.30,110.15 L550.80,110.22 L551.30,110.29 L551.80,110.36 L552.30,110.42 L552.80,110.49 L553.30,110.56 L553.80,110.62 L554.30,110.69 L554.80,110.76 L555.30,110.82 L555.80,110.89 L556.30,110.96 L556.80,111.02 L557.30,111.09 L557.80,111.15 L558.30,111.22 L558.80,111.28 L559.30,111.35 L559.80,111.41 L560.30,111.47 L560.80,111.54 L561.30,111.60 L561.80,111.67 L562.30,111.73 L562.80,111.79 L563.30,111.85 L563.80,111.92 L564.30,111.98 L564.80,112.04 L565.30,112.10 L565.80,112.17 L566.30,112.23 L566.80,112.29 L567.30,112.35 L567.80,112.41 L568.30,112.47 L568.80,112.53 L569.30,112.59 L569.80,112.65 L570.30,112.71 L570.80,112.77 L571.30,112.83 L571.80,112.89 L572.30,112.95 L572.80,113.01 L573.30,113.07 L573.80,113.13 L574.30,113.19 L574.80,113.25 L575.30,113.30 L575.80,113.36 L576.30,113.42 L576.80,113.48 L577.30,113.53 L577.80,113.59 L578.30,113.65 L578.80,113.70 L579.30,113.76 L579.80,113.82 L580.30,113.87 L580.80,113.93 L581.30,113.98 L581.80,114.04 L582.30,114.09 L582.80,114.15 L583.30,114.20 L583.80,114.26 L584.30,114.31 L584.80,114.36 L585.30,114.42 L585.80,114.47 L586.30,114.52 L586.80,114.58 L587.30,114.63 L587.80,114.68 L588.30,114.73 L588.80,114.79 L589.30,114.84 L589.80,114.89 L590.30,114.94 L590.80,114.99 L591.30,115.04 L591.80,115.09 L592.30,115.14 L592.80,115.19 L593.30,115.24 L593.80,115.29 L594.30,115.34 L594.80,115.39 L595.30,115.44 L595.80,115.49 L596.30,115.54 L596.80,115.58 L597.30,115.63 L597.80,115.68 L598.30,115.73 L598.80,115.78 L599.30,115.82 L599.80,115.87 L600.30,115.91 L600.80,115.96 L601.30,116.01 L601.80,116.05 L602.30,116.10 L602.80,116.14 L603.30,116.19 L603.80,116.23 L604.30,116.28 L604.80,116.32 L605.30,116.37 L605.80,116.41 L606.30,116.45 L606.80,116.50 L607.30,116.54 L607.80,116.58 L608.30,116.62 L608.80,116.67 L609.30,116.71 L609.80,116.75 L610.30,116.79 L610.80,116.83 L611.30,116.87 L611.80,116.91 L612.30,116.95 L612.80,116.99 L613.30,117.03 L613.80,117.07 L614.30,117.11 L614.80,117.15 L615.30,117.19 L615.80,117.23 L616.30,117.27 L616.80,117.30 L617.30,117.34 L617.80,117.38 L618.30,117.42 L618.80,117.45 L619.30,117.49 L619.80,117.53 L620.30,117.56 L620.80,117.60 L621.30,117.63 L621.80,117.67 L622.30,117.70 L622.80,117.74 L623.30,117.77 L623.80,117.81 L624.30,117.84 L624.80,117.87 L625.30,117.91 L625.80,117.94 L626.30,117.97 L626.80,118.00 L627.30,118.04 L627.80,118.07 L628.30,118.10 L628.80,118.13 L629.30,118.16 L629.80,118.19 L630.30,118.22 L630.70,118.25" stroke="#4fa9c9" fill="none" stroke-width="2.3" stroke-linejoin="round" stroke-linecap="butt"/>
<path d="M398.30,108.47 L398.80,108.73 L399.30,108.99 L399.80,109.25 L400.30,109.52 L400.80,109.78 L401.30,110.04 L401.80,110.30 L402.30,110.55 L402.80,110.81 L403.30,111.07 L403.80,111.32 L404.30,111.58 L404.80,111.83 L405.30,112.08 L405.80,112.33 L406.30,112.58 L406.80,112.82 L407.30,113.07 L407.80,113.31 L408.30,113.55 L408.80,113.79 L409.30,114.02 L409.80,114.26 L410.30,114.49 L410.80,114.72 L411.30,114.95 L411.80,115.18 L412.30,115.40 L412.80,115.62 L413.30,115.84 L413.80,116.06 L414.30,116.27 L414.80,116.48 L415.30,116.69 L415.80,116.89 L416.30,117.09 L416.80,117.29 L417.30,117.49 L417.80,117.68 L418.30,117.87 L418.80,118.05 L419.30,118.23 L419.80,118.41 L420.30,118.59 L420.80,118.76 L421.30,118.93 L421.80,119.10 L422.30,119.26 L422.80,119.42 L423.30,119.58 L423.80,119.74 L424.30,119.89 L424.80,120.04 L425.30,120.18 L425.80,120.33 L426.30,120.47 L426.80,120.60 L427.30,120.74 L427.80,120.87 L428.30,121.00 L428.80,121.13 L429.30,121.25 L429.80,121.37 L430.30,121.49 L430.80,121.61 L431.30,121.72 L431.80,121.83 L432.30,121.94 L432.80,122.05 L433.30,122.15 L433.80,122.25 L434.30,122.35 L434.80,122.45 L435.30,122.54 L435.80,122.63 L436.30,122.72 L436.80,122.81 L437.30,122.89 L437.80,122.97 L438.30,123.06 L438.80,123.13 L439.30,123.21 L439.80,123.28 L440.30,123.36 L440.80,123.43 L441.30,123.49 L441.80,123.56 L442.30,123.62 L442.80,123.69 L443.30,123.75 L443.80,123.80 L444.30,123.86 L444.80,123.91 L445.30,123.97 L445.80,124.02 L446.30,124.07 L446.80,124.11 L447.30,124.16 L447.80,124.20 L448.30,124.25 L448.80,124.29 L449.30,124.33 L449.80,124.36 L450.30,124.40 L450.80,124.44 L451.30,124.47 L451.80,124.50 L452.30,124.53 L452.80,124.55 L453.30,124.58 L453.80,124.60 L454.30,124.63 L454.80,124.64 L455.30,124.66 L455.80,124.68 L456.30,124.69 L456.80,124.71 L457.30,124.72 L457.80,124.72 L458.30,124.73 L458.80,124.73 L459.30,124.74 L459.80,124.74 L460.30,124.73 L460.80,124.73 L461.30,124.72 L461.80,124.71 L462.30,124.70 L462.80,124.69 L463.30,124.68 L463.80,124.66 L464.30,124.64 L464.80,124.62 L465.30,124.59 L465.80,124.57 L466.30,124.54 L466.80,124.50 L467.30,124.47 L467.80,124.43 L468.30,124.40 L468.80,124.36 L469.30,124.31 L469.80,124.27 L470.30,124.22 L470.80,124.17 L471.30,124.11 L471.80,124.06 L472.30,124.00 L472.80,123.93 L473.30,123.87 L473.80,123.80 L474.30,123.73 L474.80,123.66 L475.30,123.59 L475.80,123.51 L476.30,123.43 L476.80,123.34 L477.30,123.26 L477.80,123.17 L478.30,123.08 L478.80,122.98 L479.30,122.88 L479.80,122.78 L480.30,122.68 L480.80,122.57 L481.30,122.47 L481.80,122.35 L482.30,122.24 L482.80,122.12 L483.30,122.00 L483.80,121.88 L484.30,121.76 L484.80,121.63 L485.30,121.51 L485.80,121.38 L486.30,121.25 L486.80,121.11 L487.30,120.98 L487.80,120.84 L488.30,120.70 L488.80,120.56 L489.30,120.42 L489.80,120.28 L490.30,120.14 L490.80,119.99 L491.30,119.84 L491.80,119.70 L492.30,119.55 L492.80,119.40 L493.30,119.25 L493.80,119.10 L494.30,118.95 L494.80,118.80 L495.30,118.64 L495.80,118.49 L496.30,118.34 L496.80,118.18 L497.30,118.03 L497.80,117.87 L498.30,117.72 L498.80,117.57 L499.30,117.41 L499.80,117.26 L500.30,117.10 L500.80,116.95 L501.30,116.80 L501.80,116.64 L502.30,116.49 L502.80,116.34 L503.30,116.19 L503.80,116.04 L504.30,115.89 L504.80,115.74 L505.30,115.59 L505.80,115.45 L506.30,115.30 L506.80,115.16 L507.30,115.02 L507.80,114.88 L508.30,114.74 L508.80,114.60 L509.30,114.46 L509.80,114.32 L510.30,114.19 L510.80,114.06 L511.30,113.93 L511.80,113.80 L512.30,113.68 L512.80,113.55 L513.30,113.43 L513.80,113.31 L514.30,113.20 L514.80,113.08 L515.30,112.97 L515.80,112.86 L516.30,112.75 L516.80,112.65 L517.30,112.55 L517.80,112.45 L518.30,112.36 L518.80,112.26 L519.30,112.17 L519.80,112.08 L520.30,112.00 L520.80,111.92 L521.30,111.84 L521.80,111.76 L522.30,111.68 L522.80,111.61 L523.30,111.54 L523.80,111.47 L524.30,111.41 L524.80,111.35 L525.30,111.29 L525.80,111.23 L526.30,111.17 L526.80,111.12 L527.30,111.07 L527.80,111.02 L528.30,110.97 L528.80,110.93 L529.30,110.88 L529.80,110.84 L530.30,110.80 L530.80,110.77 L531.30,110.73 L531.80,110.70 L532.30,110.67 L532.80,110.64 L533.30,110.62 L533.80,110.59 L534.30,110.57 L534.80,110.55 L535.30,110.53 L535.80,110.52 L536.30,110.50 L536.80,110.49 L537.30,110.48 L537.80,110.47 L538.30,110.46 L538.80,110.46 L539.30,110.45 L539.80,110.45 L540.30,110.45 L540.80,110.45 L541.30,110.45 L541.80,110.46 L542.30,110.46 L542.80,110.47 L543.30,110.48 L543.80,110.49 L544.30,110.50 L544.80,110.52 L545.30,110.53 L545.80,110.55 L546.30,110.57 L546.80,110.58 L547.30,110.60 L547.80,110.63 L548.30,110.65 L548.80,110.67 L549.30,110.70 L549.80,110.72 L550.30,110.75 L550.80,110.78 L551.30,110.81 L551.80,110.84 L552.30,110.88 L552.80,110.91 L553.30,110.94 L553.80,110.98 L554.30,111.02 L554.80,111.05 L555.30,111.09 L555.80,111.13 L556.30,111.17 L556.80,111.21 L557.30,111.25 L557.80,111.30 L558.30,111.34 L558.80,111.39 L559.30,111.43 L559.80,111.48 L560.30,111.52 L560.80,111.57 L561.30,111.62 L561.80,111.67 L562.30,111.72 L562.80,111.77 L563.30,111.82 L563.80,111.87 L564.30,111.92 L564.80,111.97 L565.30,112.03 L565.80,112.08 L566.30,112.13 L566.80,112.19 L567.30,112.24 L567.80,112.30 L568.30,112.35 L568.80,112.41 L569.30,112.47 L569.80,112.52 L570.30,112.58 L570.80,112.64 L571.30,112.69 L571.80,112.75 L572.30,112.81 L572.80,112.87 L573.30,112.92 L573.80,112.98 L574.30,113.04 L574.80,113.10 L575.30,113.16 L575.80,113.21 L576.30,113.27 L576.80,113.33 L577.30,113.39 L577.80,113.44 L578.30,113.50 L578.80,113.56 L579.30,113.62 L579.80,113.68 L580.30,113.73 L580.80,113.79 L581.30,113.85 L581.80,113.90 L582.30,113.96 L582.80,114.02 L583.30,114.07 L583.80,114.13 L584.30,114.19 L584.80,114.24 L585.30,114.30 L585.80,114.35 L586.30,114.41 L586.80,114.46 L587.30,114.52 L587.80,114.57 L588.30,114.63 L588.80,114.68 L589.30,114.74 L589.80,114.79 L590.30,114.84 L590.80,114.90 L591.30,114.95 L591.80,115.01 L592.30,115.06 L592.80,115.11 L593.30,115.16 L593.80,115.22 L594.30,115.27 L594.80,115.32 L595.30,115.37 L595.80,115.42 L596.30,115.48 L596.80,115.53 L597.30,115.58 L597.80,115.63 L598.30,115.68 L598.80,115.73 L599.30,115.78 L599.80,115.83 L600.30,115.88 L600.80,115.93 L601.30,115.98 L601.80,116.02 L602.30,116.07 L602.80,116.12 L603.30,116.17 L603.80,116.22 L604.30,116.26 L604.80,116.31 L605.30,116.36 L605.80,116.40 L606.30,116.45 L606.80,116.50 L607.30,116.54 L607.80,116.59 L608.30,116.63 L608.80,116.68 L609.30,116.72 L609.80,116.77 L610.30,116.81 L610.80,116.85 L611.30,116.90 L611.80,116.94 L612.30,116.98 L612.80,117.02 L613.30,117.07 L613.80,117.11 L614.30,117.15 L614.80,117.19 L615.30,117.23 L615.80,117.27 L616.30,117.31 L616.80,117.35 L617.30,117.39 L617.80,117.43 L618.30,117.47 L618.80,117.50 L619.30,117.54 L619.80,117.58 L620.30,117.62 L620.80,117.65 L621.30,117.69 L621.80,117.72 L622.30,117.76 L622.80,117.79 L623.30,117.83 L623.80,117.86 L624.30,117.90 L624.80,117.93 L625.30,117.96 L625.80,118.00 L626.30,118.03 L626.80,118.06 L627.30,118.09 L627.80,118.12 L628.30,118.15 L628.80,118.18 L629.30,118.21 L629.80,118.24 L630.30,118.27 L630.70,118.29" stroke="#04578d" fill="none" stroke-width="2.3" stroke-linejoin="round" stroke-linecap="butt"/>
<path d="M398.50,106.75 L399.00,107.07 L399.50,107.39 L400.00,107.71 L400.50,108.02 L401.00,108.34 L401.50,108.65 L402.00,108.96 L402.50,109.27 L403.00,109.58 L403.50,109.89 L404.00,110.19 L404.50,110.50 L405.00,110.80 L405.50,111.10 L406.00,111.40 L406.50,111.70 L407.00,112.00 L407.50,112.29 L408.00,112.59 L408.50,112.88 L409.00,113.17 L409.50,113.45 L410.00,113.74 L410.50,114.02 L411.00,114.30 L411.50,114.58 L412.00,114.86 L412.50,115.13 L413.00,115.40 L413.50,115.67 L414.00,115.94 L414.50,116.20 L415.00,116.46 L415.50,116.72 L416.00,116.98 L416.50,117.23 L417.00,117.48 L417.50,117.73 L418.00,117.97 L418.50,118.22 L419.00,118.46 L419.50,118.69 L420.00,118.92 L420.50,119.15 L421.00,119.38 L421.50,119.60 L422.00,119.82 L422.50,120.04 L423.00,120.25 L423.50,120.46 L424.00,120.67 L424.50,120.87 L425.00,121.07 L425.50,121.27 L426.00,121.46 L426.50,121.65 L427.00,121.83 L427.50,122.01 L428.00,122.19 L428.50,122.37 L429.00,122.54 L429.50,122.70 L430.00,122.87 L430.50,123.03 L431.00,123.19 L431.50,123.34 L432.00,123.49 L432.50,123.64 L433.00,123.79 L433.50,123.93 L434.00,124.07 L434.50,124.21 L435.00,124.34 L435.50,124.47 L436.00,124.60 L436.50,124.72 L437.00,124.85 L437.50,124.97 L438.00,125.08 L438.50,125.20 L439.00,125.31 L439.50,125.42 L440.00,125.53 L440.50,125.63 L441.00,125.73 L441.50,125.83 L442.00,125.93 L442.50,126.03 L443.00,126.12 L443.50,126.21 L444.00,126.30 L444.50,126.39 L445.00,126.47 L445.50,126.55 L446.00,126.63 L446.50,126.71 L447.00,126.79 L447.50,126.86 L448.00,126.94 L448.50,127.01 L449.00,127.08 L449.50,127.14 L450.00,127.21 L450.50,127.27 L451.00,127.34 L451.50,127.40 L452.00,127.46 L452.50,127.52 L453.00,127.57 L453.50,127.63 L454.00,127.68 L454.50,127.73 L455.00,127.79 L455.50,127.84 L456.00,127.88 L456.50,127.93 L457.00,127.98 L457.50,128.02 L458.00,128.07 L458.50,128.11 L459.00,128.15 L459.50,128.20 L460.00,128.24 L460.50,128.27 L461.00,128.31 L461.50,128.35 L462.00,128.38 L462.50,128.42 L463.00,128.45 L463.50,128.48 L464.00,128.51 L464.50,128.54 L465.00,128.57 L465.50,128.60 L466.00,128.62 L466.50,128.65 L467.00,128.67 L467.50,128.70 L468.00,128.72 L468.50,128.74 L469.00,128.76 L469.50,128.77 L470.00,128.79 L470.50,128.81 L471.00,128.82 L471.50,128.83 L472.00,128.85 L472.50,128.86 L473.00,128.87 L473.50,128.88 L474.00,128.88 L474.50,128.89 L475.00,128.89 L475.50,128.90 L476.00,128.90 L476.50,128.90 L477.00,128.90 L477.50,128.90 L478.00,128.90 L478.50,128.89 L479.00,128.89 L479.50,128.88 L480.00,128.87 L480.50,128.86 L481.00,128.85 L481.50,128.84 L482.00,128.83 L482.50,128.82 L483.00,128.80 L483.50,128.79 L484.00,128.77 L484.50,128.75 L485.00,128.73 L485.50,128.71 L486.00,128.69 L486.50,128.66 L487.00,128.64 L487.50,128.61 L488.00,128.58 L488.50,128.55 L489.00,128.52 L489.50,128.49 L490.00,128.46 L490.50,128.43 L491.00,128.39 L491.50,128.35 L492.00,128.32 L492.50,128.28 L493.00,128.24 L493.50,128.19 L494.00,128.15 L494.50,128.11 L495.00,128.06 L495.50,128.01 L496.00,127.97 L496.50,127.92 L497.00,127.87 L497.50,127.81 L498.00,127.76 L498.50,127.70 L499.00,127.65 L499.50,127.59 L500.00,127.53 L500.50,127.47 L501.00,127.41 L501.50,127.35 L502.00,127.28 L502.50,127.22 L503.00,127.15 L503.50,127.08 L504.00,127.01 L504.50,126.94 L505.00,126.87 L505.50,126.79 L506.00,126.72 L506.50,126.64 L507.00,126.56 L507.50,126.48 L508.00,126.40 L508.50,126.32 L509.00,126.24 L509.50,126.15 L510.00,126.07 L510.50,125.98 L511.00,125.89 L511.50,125.80 L512.00,125.71 L512.50,125.62 L513.00,125.53 L513.50,125.44 L514.00,125.34 L514.50,125.25 L515.00,125.15 L515.50,125.06 L516.00,124.96 L516.50,124.86 L517.00,124.76 L517.50,124.67 L518.00,124.57 L518.50,124.47 L519.00,124.37 L519.50,124.27 L520.00,124.17 L520.50,124.07 L521.00,123.96 L521.50,123.86 L522.00,123.76 L522.50,123.66 L523.00,123.56 L523.50,123.46 L524.00,123.35 L524.50,123.25 L525.00,123.15 L525.50,123.05 L526.00,122.95 L526.50,122.85 L527.00,122.75 L527.50,122.65 L528.00,122.55 L528.50,122.45 L529.00,122.35 L529.50,122.25 L530.00,122.15 L530.50,122.05 L531.00,121.95 L531.50,121.86 L532.00,121.76 L532.50,121.66 L533.00,121.57 L533.50,121.47 L534.00,121.38 L534.50,121.28 L535.00,121.19 L535.50,121.10 L536.00,121.01 L536.50,120.91 L537.00,120.82 L537.50,120.73 L538.00,120.64 L538.50,120.55 L539.00,120.46 L539.50,120.37 L540.00,120.29 L540.50,120.20 L541.00,120.11 L541.50,120.03 L542.00,119.94 L542.50,119.86 L543.00,119.78 L543.50,119.69 L544.00,119.61 L544.50,119.53 L545.00,119.45 L545.50,119.37 L546.00,119.29 L546.50,119.21 L547.00,119.14 L547.50,119.06 L548.00,118.99 L548.50,118.91 L549.00,118.84 L549.50,118.76 L550.00,118.69 L550.50,118.62 L551.00,118.55 L551.50,118.48 L552.00,118.41 L552.50,118.35 L553.00,118.28 L553.50,118.21 L554.00,118.15 L554.50,118.08 L555.00,118.02 L555.50,117.96 L556.00,117.90 L556.50,117.84 L557.00,117.78 L557.50,117.72 L558.00,117.67 L558.50,117.61 L559.00,117.56 L559.50,117.50 L560.00,117.45 L560.50,117.40 L561.00,117.35 L561.50,117.30 L562.00,117.25 L562.50,117.21 L563.00,117.16 L563.50,117.12 L564.00,117.07 L564.50,117.03 L565.00,116.99 L565.50,116.95 L566.00,116.91 L566.50,116.87 L567.00,116.83 L567.50,116.79 L568.00,116.76 L568.50,116.72 L569.00,116.69 L569.50,116.66 L570.00,116.62 L570.50,116.59 L571.00,116.57 L571.50,116.54 L572.00,116.51 L572.50,116.48 L573.00,116.46 L573.50,116.43 L574.00,116.41 L574.50,116.39 L575.00,116.37 L575.50,116.35 L576.00,116.33 L576.50,116.31 L577.00,116.30 L577.50,116.28 L578.00,116.27 L578.50,116.25 L579.00,116.24 L579.50,116.23 L580.00,116.22 L580.50,116.21 L581.00,116.20 L581.50,116.19 L582.00,116.19 L582.50,116.18 L583.00,116.18 L583.50,116.17 L584.00,116.17 L584.50,116.17 L585.00,116.17 L585.50,116.17 L586.00,116.17 L586.50,116.17 L587.00,116.18 L587.50,116.18 L588.00,116.19 L588.50,116.19 L589.00,116.20 L589.50,116.21 L590.00,116.21 L590.50,116.22 L591.00,116.23 L591.50,116.24 L592.00,116.26 L592.50,116.27 L593.00,116.28 L593.50,116.29 L594.00,116.31 L594.50,116.32 L595.00,116.34 L595.50,116.35 L596.00,116.37 L596.50,116.39 L597.00,116.41 L597.50,116.43 L598.00,116.45 L598.50,116.47 L599.00,116.49 L599.50,116.51 L600.00,116.53 L600.50,116.55 L601.00,116.57 L601.50,116.60 L602.00,116.62 L602.50,116.65 L603.00,116.67 L603.50,116.70 L604.00,116.72 L604.50,116.75 L605.00,116.78 L605.50,116.80 L606.00,116.83 L606.50,116.86 L607.00,116.89 L607.50,116.92 L608.00,116.95 L608.50,116.98 L609.00,117.01 L609.50,117.04 L610.00,117.07 L610.50,117.10 L611.00,117.13 L611.50,117.16 L612.00,117.19 L612.50,117.23 L613.00,117.26 L613.50,117.29 L614.00,117.33 L614.50,117.36 L615.00,117.39 L615.50,117.43 L616.00,117.46 L616.50,117.49 L617.00,117.53 L617.50,117.56 L618.00,117.60 L618.50,117.63 L619.00,117.67 L619.50,117.70 L620.00,117.74 L620.50,117.77 L621.00,117.81 L621.50,117.84 L622.00,117.88 L622.50,117.91 L623.00,117.95 L623.50,117.98 L624.00,118.02 L624.50,118.06 L625.00,118.09 L625.50,118.13 L626.00,118.16 L626.50,118.20 L627.00,118.23 L627.50,118.27 L628.00,118.30 L628.50,118.34 L629.00,118.37 L629.50,118.41 L630.00,118.44 L630.50,118.48 L630.90,118.50" stroke="#030a55" fill="none" stroke-width="2.3" stroke-linejoin="round" stroke-linecap="butt"/>
</g>
<g clip-path="url(#cbl)">
<path d="M49.80,328.47 L50.30,329.51 L50.80,330.46 L51.30,331.33 L51.80,332.13 L52.30,332.85 L52.80,333.50 L53.30,334.10 L53.80,334.64 L54.30,335.13 L54.80,335.59 L55.30,336.01 L55.80,336.39 L56.30,336.76 L56.80,337.10 L57.30,337.44 L57.80,337.77 L58.30,338.09 L58.80,338.40 L59.30,338.71 L59.80,339.01 L60.30,339.30 L60.80,339.58 L61.30,339.85 L61.80,340.11 L62.30,340.35 L62.80,340.58 L63.30,340.80 L63.80,340.99 L64.30,341.17 L64.80,341.34 L65.30,341.48 L65.80,341.60 L66.30,341.70 L66.80,341.78 L67.30,341.84 L67.80,341.87 L68.30,341.89 L68.80,341.88 L69.30,341.86 L69.80,341.82 L70.30,341.76 L70.80,341.69 L71.30,341.62 L71.80,341.53 L72.30,341.43 L72.80,341.33 L73.30,341.22 L73.80,341.11 L74.30,341.00 L74.80,340.89 L75.30,340.78 L75.80,340.68 L76.30,340.58 L76.80,340.48 L77.30,340.39 L77.80,340.30 L78.30,340.21 L78.80,340.13 L79.30,340.05 L79.80,339.97 L80.30,339.90 L80.80,339.83 L81.30,339.76 L81.80,339.69 L82.30,339.63 L82.80,339.57 L83.30,339.51 L83.80,339.45 L84.30,339.40 L84.80,339.34 L85.30,339.29 L85.80,339.24 L86.30,339.19 L86.80,339.14 L87.30,339.10 L87.80,339.05 L88.30,339.01 L88.80,338.96 L89.30,338.92 L89.80,338.88 L90.30,338.83 L90.80,338.79 L91.30,338.75 L91.80,338.70 L92.30,338.66 L92.80,338.62 L93.30,338.57 L93.80,338.53 L94.30,338.48 L94.80,338.44 L95.30,338.39 L95.80,338.35 L96.30,338.30 L96.80,338.25 L97.30,338.21 L97.80,338.16 L98.30,338.11 L98.80,338.07 L99.30,338.02 L99.80,337.97 L100.30,337.92 L100.80,337.87 L101.30,337.82 L101.80,337.78 L102.30,337.73 L102.80,337.68 L103.30,337.63 L103.80,337.58 L104.30,337.53 L104.80,337.48 L105.30,337.43 L105.80,337.37 L106.30,337.32 L106.80,337.27 L107.30,337.22 L107.80,337.17 L108.30,337.12 L108.80,337.07 L109.30,337.01 L109.80,336.96 L110.30,336.91 L110.80,336.86 L111.30,336.80 L111.80,336.75 L112.30,336.70 L112.80,336.64 L113.30,336.59 L113.80,336.54 L114.30,336.48 L114.80,336.43 L115.30,336.38 L115.80,336.32 L116.30,336.27 L116.80,336.22 L117.30,336.16 L117.80,336.11 L118.30,336.05 L118.80,336.00 L119.30,335.94 L119.80,335.89 L120.30,335.84 L120.80,335.78 L121.30,335.73 L121.80,335.67 L122.30,335.62 L122.80,335.56 L123.30,335.51 L123.80,335.46 L124.30,335.40 L124.80,335.35 L125.30,335.29 L125.80,335.24 L126.30,335.18 L126.80,335.13 L127.30,335.07 L127.80,335.02 L128.30,334.97 L128.80,334.91 L129.30,334.86 L129.80,334.80 L130.30,334.75 L130.80,334.69 L131.30,334.64 L131.80,334.59 L132.30,334.53 L132.80,334.48 L133.30,334.43 L133.80,334.37 L134.30,334.32 L134.80,334.27 L135.30,334.21 L135.80,334.16 L136.30,334.11 L136.80,334.06 L137.30,334.00 L137.80,333.95 L138.30,333.90 L138.80,333.85 L139.30,333.79 L139.80,333.74 L140.30,333.69 L140.80,333.64 L141.30,333.59 L141.80,333.54 L142.30,333.49 L142.80,333.44 L143.30,333.39 L143.80,333.34 L144.30,333.29 L144.80,333.24 L145.30,333.19 L145.80,333.14 L146.30,333.09 L146.80,333.04 L147.30,332.99 L147.80,332.94 L148.30,332.90 L148.80,332.85 L149.30,332.80 L149.80,332.75 L150.30,332.71 L150.80,332.66 L151.30,332.61 L151.80,332.57 L152.30,332.52 L152.80,332.48 L153.30,332.43 L153.80,332.39 L154.30,332.34 L154.80,332.30 L155.30,332.25 L155.80,332.21 L156.30,332.16 L156.80,332.12 L157.30,332.08 L157.80,332.03 L158.30,331.99 L158.80,331.95 L159.30,331.90 L159.80,331.86 L160.30,331.82 L160.80,331.78 L161.30,331.74 L161.80,331.70 L162.30,331.65 L162.80,331.61 L163.30,331.57 L163.80,331.53 L164.30,331.49 L164.80,331.45 L165.30,331.41 L165.80,331.37 L166.30,331.33 L166.80,331.29 L167.30,331.25 L167.80,331.21 L168.30,331.18 L168.80,331.14 L169.30,331.10 L169.80,331.06 L170.30,331.02 L170.80,330.98 L171.30,330.95 L171.80,330.91 L172.30,330.87 L172.80,330.84 L173.30,330.80 L173.80,330.76 L174.30,330.73 L174.80,330.69 L175.30,330.65 L175.80,330.62 L176.30,330.58 L176.80,330.55 L177.30,330.51 L177.80,330.48 L178.30,330.44 L178.80,330.41 L179.30,330.37 L179.80,330.34 L180.30,330.30 L180.80,330.27 L181.30,330.23 L181.80,330.20 L182.30,330.17 L182.80,330.13 L183.30,330.10 L183.80,330.07 L184.30,330.03 L184.80,330.00 L185.30,329.97 L185.80,329.93 L186.30,329.90 L186.80,329.87 L187.30,329.84 L187.80,329.81 L188.30,329.77 L188.80,329.74 L189.30,329.71 L189.80,329.68 L190.30,329.65 L190.80,329.62 L191.30,329.59 L191.80,329.55 L192.30,329.52 L192.80,329.49 L193.30,329.46 L193.80,329.43 L194.30,329.40 L194.80,329.37 L195.30,329.34 L195.80,329.31 L196.30,329.28 L196.80,329.25 L197.30,329.22 L197.80,329.19 L198.30,329.16 L198.80,329.13 L199.30,329.11 L199.80,329.08 L200.30,329.05 L200.80,329.02 L201.30,328.99 L201.80,328.96 L202.30,328.93 L202.80,328.90 L203.30,328.88 L203.80,328.85 L204.30,328.82 L204.80,328.79 L205.30,328.76 L205.80,328.74 L206.30,328.71 L206.80,328.68 L207.30,328.65 L207.80,328.63 L208.30,328.60 L208.80,328.57 L209.30,328.54 L209.80,328.52 L210.30,328.49 L210.80,328.46 L211.30,328.44 L211.80,328.41 L212.30,328.38 L212.80,328.36 L213.30,328.33 L213.80,328.30 L214.30,328.28 L214.80,328.25 L215.30,328.22 L215.80,328.20 L216.30,328.17 L216.80,328.15 L217.30,328.12 L217.80,328.09 L218.30,328.07 L218.80,328.04 L219.30,328.02 L219.80,327.99 L220.30,327.96 L220.80,327.94 L221.30,327.91 L221.80,327.89 L222.30,327.86 L222.80,327.84 L223.30,327.81 L223.80,327.79 L224.30,327.76 L224.80,327.73 L225.30,327.71 L225.80,327.68 L226.30,327.66 L226.80,327.63 L227.30,327.61 L227.80,327.58 L228.30,327.56 L228.80,327.53 L229.30,327.51 L229.80,327.48 L230.30,327.46 L230.80,327.43 L231.30,327.41 L231.80,327.38 L232.30,327.36 L232.80,327.33 L233.30,327.31 L233.80,327.28 L234.30,327.26 L234.80,327.23 L235.30,327.21 L235.80,327.18 L236.30,327.16 L236.80,327.13 L237.30,327.11 L237.80,327.08 L238.30,327.06 L238.80,327.04 L239.30,327.01 L239.80,326.99 L240.30,326.96 L240.80,326.94 L241.30,326.91 L241.80,326.89 L242.30,326.86 L242.80,326.84 L243.30,326.81 L243.80,326.79 L244.30,326.76 L244.80,326.74 L245.30,326.71 L245.80,326.69 L246.30,326.66 L246.80,326.64 L247.30,326.61 L247.80,326.59 L248.30,326.56 L248.80,326.54 L249.30,326.51 L249.80,326.48 L250.30,326.46 L250.80,326.43 L251.30,326.41 L251.80,326.38 L252.30,326.36 L252.80,326.33 L253.30,326.31 L253.80,326.28 L254.30,326.26 L254.80,326.23 L255.30,326.20 L255.80,326.18 L256.30,326.15 L256.80,326.13 L257.30,326.10 L257.80,326.07 L258.30,326.05 L258.80,326.02 L259.30,326.00 L259.80,325.97 L260.30,325.94 L260.80,325.92 L261.30,325.89 L261.80,325.86 L262.30,325.84 L262.80,325.81 L263.30,325.78 L263.80,325.76 L264.30,325.73 L264.80,325.70 L265.30,325.68 L265.80,325.65 L266.30,325.62 L266.80,325.60 L267.30,325.57 L267.80,325.54 L268.30,325.51 L268.80,325.49 L269.30,325.46 L269.80,325.43 L270.30,325.40 L270.80,325.37 L271.30,325.35 L271.80,325.32 L272.30,325.29 L272.80,325.26 L273.30,325.23 L273.80,325.20 L274.30,325.18 L274.80,325.15 L275.30,325.12 L275.80,325.09 L276.30,325.06 L276.80,325.03 L277.30,325.00 L277.80,324.97 L278.30,324.94 L278.80,324.91 L279.30,324.88 L279.80,324.85 L280.30,324.82 L280.80,324.79 L281.30,324.76 L281.80,324.73 L282.20,324.71" stroke="#4fa9c9" fill="none" stroke-width="2.3" stroke-linejoin="round" stroke-linecap="butt"/>
<path d="M49.80,241.92 L50.30,241.99 L50.80,242.07 L51.30,242.14 L51.80,242.22 L52.30,242.29 L52.80,242.37 L53.30,242.44 L53.80,242.51 L54.30,242.59 L54.80,242.66 L55.30,242.73 L55.80,242.81 L56.30,242.88 L56.80,242.95 L57.30,243.02 L57.80,243.10 L58.30,243.17 L58.80,243.24 L59.30,243.31 L59.80,243.38 L60.30,243.45 L60.80,243.52 L61.30,243.60 L61.80,243.67 L62.30,243.74 L62.80,243.81 L63.30,243.88 L63.80,243.95 L64.30,244.02 L64.80,244.09 L65.30,244.16 L65.80,244.23 L66.30,244.30 L66.80,244.37 L67.30,244.44 L67.80,244.51 L68.30,244.58 L68.80,244.65 L69.30,244.72 L69.80,244.80 L70.30,244.87 L70.80,244.94 L71.30,245.01 L71.80,245.08 L72.30,245.15 L72.80,245.22 L73.30,245.29 L73.80,245.36 L74.30,245.43 L74.80,245.50 L75.30,245.58 L75.80,245.65 L76.30,245.72 L76.80,245.79 L77.30,245.86 L77.80,245.94 L78.30,246.01 L78.80,246.08 L79.30,246.15 L79.80,246.23 L80.30,246.30 L80.80,246.37 L81.30,246.45 L81.80,246.52 L82.30,246.60 L82.80,246.67 L83.30,246.75 L83.80,246.82 L84.30,246.90 L84.80,246.97 L85.30,247.05 L85.80,247.12 L86.30,247.20 L86.80,247.28 L87.30,247.36 L87.80,247.43 L88.30,247.51 L88.80,247.59 L89.30,247.67 L89.80,247.75 L90.30,247.83 L90.80,247.91 L91.30,247.99 L91.80,248.07 L92.30,248.15 L92.80,248.23 L93.30,248.31 L93.80,248.40 L94.30,248.48 L94.80,248.56 L95.30,248.65 L95.80,248.73 L96.30,248.82 L96.80,248.90 L97.30,248.99 L97.80,249.07 L98.30,249.16 L98.80,249.25 L99.30,249.34 L99.80,249.42 L100.30,249.51 L100.80,249.60 L101.30,249.69 L101.80,249.79 L102.30,249.88 L102.80,249.97 L103.30,250.06 L103.80,250.15 L104.30,250.25 L104.80,250.34 L105.30,250.44 L105.80,250.54 L106.30,250.63 L106.80,250.73 L107.30,250.83 L107.80,250.93 L108.30,251.03 L108.80,251.13 L109.30,251.23 L109.80,251.33 L110.30,251.43 L110.80,251.53 L111.30,251.64 L111.80,251.74 L112.30,251.85 L112.80,251.95 L113.30,252.06 L113.80,252.17 L114.30,252.28 L114.80,252.39 L115.30,252.50 L115.80,252.61 L116.30,252.72 L116.80,252.83 L117.30,252.95 L117.80,253.06 L118.30,253.18 L118.80,253.29 L119.30,253.41 L119.80,253.53 L120.30,253.65 L120.80,253.77 L121.30,253.89 L121.80,254.01 L122.30,254.14 L122.80,254.26 L123.30,254.39 L123.80,254.51 L124.30,254.64 L124.80,254.77 L125.30,254.90 L125.80,255.03 L126.30,255.17 L126.80,255.30 L127.30,255.44 L127.80,255.58 L128.30,255.71 L128.80,255.85 L129.30,256.00 L129.80,256.14 L130.30,256.28 L130.80,256.43 L131.30,256.58 L131.80,256.73 L132.30,256.88 L132.80,257.03 L133.30,257.18 L133.80,257.34 L134.30,257.49 L134.80,257.65 L135.30,257.81 L135.80,257.98 L136.30,258.14 L136.80,258.30 L137.30,258.47 L137.80,258.64 L138.30,258.81 L138.80,258.98 L139.30,259.16 L139.80,259.34 L140.30,259.51 L140.80,259.69 L141.30,259.88 L141.80,260.06 L142.30,260.25 L142.80,260.44 L143.30,260.63 L143.80,260.82 L144.30,261.01 L144.80,261.21 L145.30,261.41 L145.80,261.61 L146.30,261.81 L146.80,262.02 L147.30,262.23 L147.80,262.44 L148.30,262.65 L148.80,262.86 L149.30,263.08 L149.80,263.30 L150.30,263.52 L150.80,263.74 L151.30,263.97 L151.80,264.20 L152.30,264.43 L152.80,264.66 L153.30,264.90 L153.80,265.14 L154.30,265.38 L154.80,265.62 L155.30,265.87 L155.80,266.12 L156.30,266.37 L156.80,266.62 L157.30,266.88 L157.80,267.14 L158.30,267.40 L158.80,267.66 L159.30,267.93 L159.80,268.20 L160.30,268.47 L160.80,268.75 L161.30,269.03 L161.80,269.31 L162.30,269.60 L162.80,269.88 L163.30,270.17 L163.80,270.47 L164.30,270.76 L164.80,271.06 L165.30,271.37 L165.80,271.67 L166.30,271.98 L166.80,272.29 L167.30,272.61 L167.80,272.92 L168.30,273.25 L168.80,273.57 L169.30,273.90 L169.80,274.23 L170.30,274.56 L170.80,274.90 L171.30,275.24 L171.80,275.58 L172.30,275.92 L172.80,276.26 L173.30,276.61 L173.80,276.96 L174.30,277.30 L174.80,277.65 L175.30,278.00 L175.80,278.36 L176.30,278.71 L176.80,279.06 L177.30,279.41 L177.80,279.76 L178.30,280.11 L178.80,280.47 L179.30,280.82 L179.80,281.17 L180.30,281.51 L180.80,281.86 L181.30,282.21 L181.80,282.55 L182.30,282.90 L182.80,283.24 L183.30,283.57 L183.80,283.91 L184.30,284.24 L184.80,284.57 L185.30,284.90 L185.80,285.23 L186.30,285.55 L186.80,285.87 L187.30,286.18 L187.80,286.49 L188.30,286.80 L188.80,287.10 L189.30,287.40 L189.80,287.69 L190.30,287.98 L190.80,288.27 L191.30,288.56 L191.80,288.84 L192.30,289.12 L192.80,289.39 L193.30,289.66 L193.80,289.93 L194.30,290.20 L194.80,290.46 L195.30,290.72 L195.80,290.97 L196.30,291.23 L196.80,291.48 L197.30,291.73 L197.80,291.98 L198.30,292.22 L198.80,292.46 L199.30,292.70 L199.80,292.94 L200.30,293.17 L200.80,293.40 L201.30,293.63 L201.80,293.86 L202.30,294.09 L202.80,294.31 L203.30,294.54 L203.80,294.76 L204.30,294.98 L204.80,295.20 L205.30,295.41 L205.80,295.63 L206.30,295.84 L206.80,296.05 L207.30,296.26 L207.80,296.46 L208.30,296.67 L208.80,296.87 L209.30,297.07 L209.80,297.27 L210.30,297.47 L210.80,297.66 L211.30,297.86 L211.80,298.05 L212.30,298.24 L212.80,298.43 L213.30,298.61 L213.80,298.79 L214.30,298.98 L214.80,299.16 L215.30,299.33 L215.80,299.51 L216.30,299.68 L216.80,299.85 L217.30,300.02 L217.80,300.19 L218.30,300.36 L218.80,300.52 L219.30,300.68 L219.80,300.84 L220.30,301.00 L220.80,301.15 L221.30,301.30 L221.80,301.46 L222.30,301.60 L222.80,301.75 L223.30,301.89 L223.80,302.04 L224.30,302.18 L224.80,302.31 L225.30,302.45 L225.80,302.58 L226.30,302.71 L226.80,302.84 L227.30,302.97 L227.80,303.09 L228.30,303.22 L228.80,303.34 L229.30,303.45 L229.80,303.57 L230.30,303.68 L230.80,303.80 L231.30,303.91 L231.80,304.01 L232.30,304.12 L232.80,304.22 L233.30,304.33 L233.80,304.43 L234.30,304.52 L234.80,304.62 L235.30,304.71 L235.80,304.81 L236.30,304.90 L236.80,304.99 L237.30,305.07 L237.80,305.16 L238.30,305.24 L238.80,305.33 L239.30,305.41 L239.80,305.48 L240.30,305.56 L240.80,305.64 L241.30,305.71 L241.80,305.78 L242.30,305.86 L242.80,305.93 L243.30,305.99 L243.80,306.06 L244.30,306.13 L244.80,306.19 L245.30,306.25 L245.80,306.31 L246.30,306.37 L246.80,306.43 L247.30,306.49 L247.80,306.55 L248.30,306.60 L248.80,306.65 L249.30,306.71 L249.80,306.76 L250.30,306.81 L250.80,306.86 L251.30,306.91 L251.80,306.95 L252.30,307.00 L252.80,307.04 L253.30,307.09 L253.80,307.13 L254.30,307.17 L254.80,307.21 L255.30,307.25 L255.80,307.29 L256.30,307.33 L256.80,307.37 L257.30,307.40 L257.80,307.44 L258.30,307.48 L258.80,307.51 L259.30,307.54 L259.80,307.58 L260.30,307.61 L260.80,307.64 L261.30,307.67 L261.80,307.70 L262.30,307.73 L262.80,307.76 L263.30,307.79 L263.80,307.82 L264.30,307.85 L264.80,307.87 L265.30,307.90 L265.80,307.93 L266.30,307.95 L266.80,307.98 L267.30,308.01 L267.80,308.03 L268.30,308.06 L268.80,308.08 L269.30,308.11 L269.80,308.13 L270.30,308.15 L270.80,308.18 L271.30,308.20 L271.80,308.22 L272.30,308.25 L272.80,308.27 L273.30,308.29 L273.80,308.32 L274.30,308.34 L274.80,308.36 L275.30,308.39 L275.80,308.41 L276.30,308.43 L276.80,308.46 L277.30,308.48 L277.80,308.50 L278.30,308.53 L278.80,308.55 L279.30,308.58 L279.80,308.60 L280.30,308.63 L280.80,308.65 L281.30,308.68 L281.80,308.70 L282.20,308.72" stroke="#04578d" fill="none" stroke-width="2.3" stroke-linejoin="round" stroke-linecap="butt"/>
<path d="M49.80,241.00 L50.05,241.04 L50.30,241.07 L50.55,241.11 L50.80,241.14 L51.05,241.17 L51.30,241.21 L51.55,241.24 L51.80,241.28 L52.05,241.31 L52.30,241.34 L52.55,241.37 L52.80,241.41 L53.05,241.44 L53.30,241.47 L53.55,241.50 L53.80,241.53 L54.05,241.57 L54.30,241.60 L54.55,241.63 L54.80,241.66 L55.05,241.69 L55.30,241.72 L55.55,241.75 L55.80,241.78 L56.05,241.81 L56.30,241.83 L56.55,241.86 L56.80,241.89 L57.05,241.92 L57.30,241.95 L57.55,241.98 L57.80,242.00 L58.05,242.03 L58.30,242.06 L58.55,242.08 L58.80,242.11 L59.05,242.14 L59.30,242.16 L59.55,242.19 L59.80,242.22 L60.05,242.25 L60.30,242.27 L60.55,242.30 L60.80,242.33 L61.05,242.35 L61.30,242.38 L61.55,242.40 L61.80,242.43 L62.05,242.45 L62.30,242.48 L62.55,242.50 L62.80,242.52 L63.05,242.54 L63.30,242.56 L63.55,242.57 L63.80,242.59 L64.05,242.60 L64.30,242.62 L64.55,242.63 L64.80,242.64 L65.05,242.65 L65.30,242.66 L65.55,242.67 L65.80,242.67 L66.05,242.68 L66.30,242.69 L66.55,242.70 L66.80,242.70 L67.05,242.71 L67.30,242.72 L67.55,242.73 L67.80,242.73 L68.05,242.74 L68.30,242.75 L68.55,242.76 L68.80,242.77 L69.05,242.79 L69.30,242.80 L69.55,242.81 L69.80,242.83 L70.05,242.85 L70.30,242.87 L70.55,242.89 L70.80,242.91 L71.05,242.93 L71.30,242.96 L71.55,242.99 L71.80,243.01 L72.05,243.04 L72.30,243.07 L72.55,243.10 L72.80,243.13 L73.05,243.16 L73.30,243.20 L73.55,243.23 L73.80,243.27 L74.05,243.30 L74.30,243.34 L74.55,243.38 L74.80,243.42 L75.05,243.46 L75.30,243.51 L75.55,243.56 L75.80,243.62 L76.05,243.68 L76.30,243.75 L76.55,243.82 L76.80,243.89 L77.05,243.96 L77.30,244.03 L77.55,244.10 L77.80,244.17 L78.05,244.25 L78.30,244.32 L78.55,244.38 L78.80,244.45 L79.05,244.51 L79.30,244.57 L79.55,244.62 L79.80,244.67 L80.05,244.71 L80.30,244.75 L80.55,244.78 L80.80,244.82 L81.05,244.86 L81.30,244.89 L81.55,244.92 L81.80,244.96 L82.05,244.99 L82.30,245.02 L82.55,245.04 L82.80,245.07 L83.05,245.10 L83.30,245.13 L83.55,245.15 L83.80,245.18 L84.05,245.20 L84.30,245.23 L84.55,245.25 L84.80,245.28 L85.05,245.30 L85.30,245.32 L85.55,245.35 L85.80,245.37 L86.05,245.39 L86.30,245.42 L86.55,245.44 L86.80,245.46 L87.05,245.49 L87.30,245.51 L87.55,245.54 L87.80,245.56 L88.05,245.59 L88.30,245.61 L88.55,245.64 L88.80,245.66 L89.05,245.69 L89.30,245.72 L89.55,245.75 L89.80,245.78 L90.05,245.81 L90.30,245.85 L90.55,245.88 L90.80,245.91 L91.05,245.95 L91.30,245.99 L91.55,246.03 L91.80,246.07 L92.05,246.11 L92.30,246.15 L92.55,246.19 L92.80,246.24 L93.05,246.28 L93.30,246.33 L93.55,246.37 L93.80,246.42 L94.05,246.47 L94.30,246.52 L94.55,246.56 L94.80,246.61 L95.05,246.66 L95.30,246.71 L95.55,246.76 L95.80,246.81 L96.05,246.86 L96.30,246.91 L96.55,246.96 L96.80,247.01 L97.05,247.06 L97.30,247.11 L97.55,247.16 L97.80,247.20 L98.05,247.25 L98.30,247.30 L98.55,247.35 L98.80,247.39 L99.05,247.44 L99.30,247.48 L99.55,247.52 L99.80,247.57 L100.05,247.61 L100.30,247.65 L100.55,247.69 L100.80,247.73 L101.05,247.76 L101.30,247.80 L101.55,247.84 L101.80,247.87 L102.05,247.91 L102.30,247.94 L102.55,247.98 L102.80,248.01 L103.05,248.05 L103.30,248.08 L103.55,248.12 L103.80,248.15 L104.05,248.18 L104.30,248.22 L104.55,248.25 L104.80,248.29 L105.05,248.32 L105.30,248.36 L105.55,248.40 L105.80,248.43 L106.05,248.47 L106.30,248.51 L106.55,248.55 L106.80,248.59 L107.05,248.63 L107.30,248.67 L107.55,248.72 L107.80,248.76 L108.05,248.81 L108.30,248.86 L108.55,248.91 L108.80,248.96 L109.05,249.02 L109.30,249.07 L109.55,249.13 L109.80,249.19 L110.05,249.25 L110.30,249.32 L110.55,249.38 L110.80,249.44 L111.05,249.51 L111.30,249.58 L111.55,249.64 L111.80,249.71 L112.05,249.78 L112.30,249.85 L112.55,249.92 L112.80,249.98 L113.05,250.05 L113.30,250.12 L113.55,250.19 L113.80,250.25 L114.05,250.32 L114.30,250.39 L114.55,250.45 L114.80,250.51 L115.05,250.58 L115.30,250.64 L115.55,250.70 L115.80,250.75 L116.05,250.81 L116.30,250.87 L116.55,250.93 L116.80,250.99 L117.05,251.05 L117.30,251.12 L117.55,251.18 L117.80,251.25 L118.05,251.31 L118.30,251.38 L118.55,251.45 L118.80,251.51 L119.05,251.58 L119.30,251.65 L119.55,251.71 L119.80,251.77 L120.05,251.83 L120.30,251.89 L120.55,251.95 L120.80,252.01 L121.05,252.06 L121.30,252.11 L121.55,252.16 L121.80,252.20 L122.05,252.24 L122.30,252.28 L122.55,252.31 L122.80,252.34 L123.05,252.36 L123.30,252.38 L123.55,252.39 L123.80,252.40 L124.05,252.40 L124.30,252.39 L124.55,252.38 L124.80,252.36 L125.05,252.33 L125.30,252.30 L125.55,252.27 L125.80,252.23 L126.05,252.19 L126.30,252.16 L126.55,252.12 L126.80,252.09 L127.05,252.06 L127.30,252.03 L127.55,252.01 L127.80,252.00 L128.05,252.00 L128.30,252.01 L128.55,252.04 L128.80,252.08 L129.05,252.13 L129.30,252.20 L129.55,252.27 L129.80,252.35 L130.05,252.44 L130.30,252.53 L130.55,252.63 L130.80,252.73 L131.05,252.83 L131.30,252.93 L131.55,253.03 L131.80,253.13 L132.05,253.22 L132.30,253.33 L132.55,253.46 L132.80,253.60 L133.05,253.74 L133.30,253.86 L133.55,253.95 L133.80,254.00 L134.05,250.66 L134.30,240.00 L134.55,231.24 L134.80,227.61 L135.05,228.02 L135.30,229.60 L135.55,235.14 L135.80,238.77 L136.05,241.67 L136.30,243.75 L136.55,245.38 L136.80,246.68 L137.05,247.68 L137.30,248.47 L137.55,249.11 L137.80,249.60 L138.05,249.97 L138.30,250.27 L138.55,250.54 L138.80,250.79 L139.05,251.06 L139.30,251.33 L139.55,251.60 L139.80,251.83 L140.05,252.04 L140.30,252.22 L140.55,252.38 L140.80,252.52 L141.05,252.66 L141.30,252.80 L141.55,252.94 L141.80,253.08 L142.05,253.23 L142.30,253.40 L142.55,253.57 L142.80,253.75 L143.05,253.93 L143.30,254.10 L143.55,254.26 L143.80,254.40 L144.05,254.52 L144.30,254.63 L144.55,254.73 L144.80,254.81 L145.05,254.90 L145.30,254.98 L145.55,255.06 L145.80,255.13 L146.05,255.22 L146.30,255.30 L146.55,255.40 L146.80,255.51 L147.05,255.63 L147.30,255.74 L147.55,255.83 L147.80,255.88 L148.05,255.90 L148.30,255.87 L148.55,255.81 L148.80,255.72 L149.05,255.58 L149.30,255.40 L149.55,254.43 L149.80,252.92 L150.05,252.01 L150.30,251.37 L150.55,251.36 L150.80,251.65 L151.05,251.95 L151.30,252.23 L151.55,252.51 L151.80,252.79 L152.05,253.05 L152.30,253.29 L152.55,253.51 L152.80,253.73 L153.05,253.94 L153.30,254.16 L153.55,254.38 L153.80,254.61 L154.05,254.83 L154.30,255.05 L154.55,255.26 L154.80,255.47 L155.05,255.66 L155.30,255.84 L155.55,256.00 L155.80,256.15 L156.05,256.28 L156.30,256.41 L156.55,256.53 L156.80,256.66 L157.05,256.78 L157.30,256.89 L157.55,256.99 L157.80,257.07 L158.05,257.14 L158.30,257.18 L158.55,257.20 L158.80,257.17 L159.05,257.05 L159.30,256.86 L159.55,256.64 L159.80,256.41 L160.05,256.20 L160.30,256.02 L160.55,255.92 L160.80,255.90 L161.05,255.95 L161.30,256.03 L161.55,256.14 L161.80,256.29 L162.05,256.45 L162.30,256.63 L162.55,256.81 L162.80,257.00 L163.05,257.17 L163.30,257.34 L163.55,257.50 L163.80,257.68 L164.05,257.87 L164.30,258.06 L164.55,258.22 L164.80,258.34 L165.05,258.41 L165.30,258.45 L165.55,258.48 L165.80,258.50 L166.05,258.52 L166.30,258.54 L166.55,258.55 L166.80,258.57 L167.05,258.58 L167.30,258.60 L167.55,258.62 L167.80,258.65 L168.05,258.68 L168.30,258.72 L168.55,258.78 L168.80,258.87 L169.05,258.97 L169.30,259.09 L169.55,259.23 L169.80,259.37 L170.05,259.53 L170.30,259.69 L170.55,259.86 L170.80,260.02 L171.05,260.18 L171.30,260.34 L171.55,260.50 L171.80,260.68 L172.05,260.88 L172.30,261.10 L172.55,261.33 L172.80,261.56 L173.05,261.78 L173.30,261.99 L173.55,262.18 L173.80,262.35 L174.05,262.47 L174.30,262.56 L174.55,262.60 L174.80,262.60 L175.05,262.60 L175.30,262.59 L175.55,262.58 L175.80,262.57 L176.05,262.56 L176.30,262.54 L176.55,262.53 L176.80,262.51 L177.05,262.50 L177.30,262.48 L177.55,262.47 L177.80,262.45 L178.05,262.44 L178.30,262.43 L178.55,262.42 L178.80,262.41 L179.05,262.40 L179.30,262.40 L179.55,262.40 L179.80,262.43 L180.05,262.48 L180.30,262.54 L180.55,262.62 L180.80,262.72 L181.05,262.83 L181.30,262.95 L181.55,263.08 L181.80,263.21 L182.05,263.35 L182.30,263.49 L182.55,263.63 L182.80,263.77 L183.05,263.90 L183.30,264.03 L183.55,264.15 L183.80,264.26 L184.05,264.35 L184.30,264.43 L184.55,264.51 L184.80,264.58 L185.05,264.65 L185.30,264.72 L185.55,264.79 L185.80,264.85 L186.05,264.92 L186.30,264.98 L186.55,265.04 L186.80,265.10 L187.05,265.16 L187.30,265.22 L187.55,265.28 L187.80,265.33 L188.05,265.39 L188.30,265.45 L188.55,265.50 L188.80,265.56 L189.05,265.61 L189.30,265.66 L189.55,265.71 L189.80,265.76 L190.05,265.80 L190.30,265.85 L190.55,265.89 L190.80,265.93 L191.05,265.98 L191.30,266.02 L191.55,266.07 L191.80,266.12 L192.05,266.17 L192.30,266.22 L192.55,266.28 L192.80,266.34 L193.05,266.41 L193.30,266.49 L193.55,266.58 L193.80,266.68 L194.05,266.79 L194.30,266.91 L194.55,267.03 L194.80,267.16 L195.05,267.29 L195.30,267.43 L195.55,267.57 L195.80,267.71 L196.05,267.86 L196.30,268.00 L196.55,268.14 L196.80,268.29 L197.05,268.43 L197.30,268.58 L197.55,268.75 L197.80,268.93 L198.05,269.11 L198.30,269.30 L198.55,269.49 L198.80,269.67 L199.05,269.84 L199.30,270.00 L199.55,270.14 L199.80,270.26 L200.05,270.36 L200.30,270.42 L200.55,270.48 L200.80,270.53 L201.05,270.57 L201.30,270.60 L201.55,270.64 L201.80,270.67 L202.05,270.70 L202.30,270.72 L202.55,270.75 L202.80,270.78 L203.05,270.81 L203.30,270.84 L203.55,270.88 L203.80,270.92 L204.05,270.97 L204.30,271.02 L204.55,271.09 L204.80,271.17 L205.05,271.25 L205.30,271.35 L205.55,271.45 L205.80,271.56 L206.05,271.68 L206.30,271.80 L206.55,271.92 L206.80,272.05 L207.05,272.18 L207.30,272.32 L207.55,272.45 L207.80,272.59 L208.05,272.72 L208.30,272.85 L208.55,272.99 L208.80,273.14 L209.05,273.29 L209.30,273.45 L209.55,273.61 L209.80,273.78 L210.05,273.94 L210.30,274.11 L210.55,274.27 L210.80,274.43 L211.05,274.59 L211.30,274.74 L211.55,274.89 L211.80,275.03 L212.05,275.18 L212.30,275.33 L212.55,275.47 L212.80,275.61 L213.05,275.75 L213.30,275.89 L213.55,276.03 L213.80,276.17 L214.05,276.30 L214.30,276.44 L214.55,276.57 L214.80,276.70 L215.05,276.83 L215.30,276.95 L215.55,277.07 L215.80,277.19 L216.05,277.31 L216.30,277.43 L216.55,277.55 L216.80,277.66 L217.05,277.77 L217.30,277.89 L217.55,278.00 L217.80,278.11 L218.05,278.22 L218.30,278.33 L218.55,278.44 L218.80,278.54 L219.05,278.65 L219.30,278.76 L219.55,278.87 L219.80,278.97 L220.05,279.08 L220.30,279.19 L220.55,279.30 L220.80,279.41 L221.05,279.52 L221.30,279.63 L221.55,279.74 L221.80,279.85 L222.05,279.96 L222.30,280.07 L222.55,280.19 L222.80,280.31 L223.05,280.42 L223.30,280.54 L223.55,280.66 L223.80,280.79 L224.05,280.91 L224.30,281.04 L224.55,281.16 L224.80,281.29 L225.05,281.42 L225.30,281.55 L225.55,281.68 L225.80,281.81 L226.05,281.94 L226.30,282.07 L226.55,282.20 L226.80,282.33 L227.05,282.46 L227.30,282.59 L227.55,282.72 L227.80,282.85 L228.05,282.98 L228.30,283.11 L228.55,283.23 L228.80,283.36 L229.05,283.48 L229.30,283.61 L229.55,283.73 L229.80,283.85 L230.05,283.97 L230.30,284.08 L230.55,284.20 L230.80,284.31 L231.05,284.42 L231.30,284.53 L231.55,284.64 L231.80,284.74 L232.05,284.85 L232.30,284.95 L232.55,285.05 L232.80,285.15 L233.05,285.25 L233.30,285.35 L233.55,285.45 L233.80,285.55 L234.05,285.64 L234.30,285.74 L234.55,285.83 L234.80,285.93 L235.05,286.02 L235.30,286.11 L235.55,286.20 L235.80,286.29 L236.05,286.38 L236.30,286.46 L236.55,286.55 L236.80,286.63 L237.05,286.72 L237.30,286.80 L237.55,286.89 L237.80,286.97 L238.05,287.06 L238.30,287.15 L238.55,287.24 L238.80,287.33 L239.05,287.42 L239.30,287.51 L239.55,287.61 L239.80,287.71 L240.05,287.81 L240.30,287.91 L240.55,288.01 L240.80,288.11 L241.05,288.21 L241.30,288.32 L241.55,288.42 L241.80,288.52 L242.05,288.62 L242.30,288.72 L242.55,288.82 L242.80,288.92 L243.05,289.02 L243.30,289.12 L243.55,289.21 L243.80,289.31 L244.05,289.40 L244.30,289.49 L244.55,289.59 L244.80,289.68 L245.05,289.77 L245.30,289.87 L245.55,289.96 L245.80,290.05 L246.05,290.15 L246.30,290.24 L246.55,290.33 L246.80,290.43 L247.05,290.52 L247.30,290.61 L247.55,290.71 L247.80,290.81 L248.05,290.90 L248.30,291.00 L248.55,291.10 L248.80,291.19 L249.05,291.29 L249.30,291.39 L249.55,291.48 L249.80,291.57 L250.05,291.67 L250.30,291.76 L250.55,291.85 L250.80,291.93 L251.05,292.02 L251.30,292.10 L251.55,292.18 L251.80,292.26 L252.05,292.33 L252.30,292.41 L252.55,292.48 L252.80,292.56 L253.05,292.63 L253.30,292.70 L253.55,292.78 L253.80,292.85 L254.05,292.92 L254.30,292.99 L254.55,293.07 L254.80,293.14 L255.05,293.22 L255.30,293.29 L255.55,293.37 L255.80,293.44 L256.05,293.52 L256.30,293.59 L256.55,293.67 L256.80,293.75 L257.05,293.82 L257.30,293.90 L257.55,293.97 L257.80,294.05 L258.05,294.12 L258.30,294.20 L258.55,294.27 L258.80,294.34 L259.05,294.41 L259.30,294.49 L259.55,294.56 L259.80,294.63 L260.05,294.70 L260.30,294.76 L260.55,294.83 L260.80,294.90 L261.05,294.97 L261.30,295.04 L261.55,295.11 L261.80,295.17 L262.05,295.24 L262.30,295.31 L262.55,295.38 L262.80,295.45 L263.05,295.51 L263.30,295.58 L263.55,295.65 L263.80,295.72 L264.05,295.79 L264.30,295.86 L264.55,295.93 L264.80,296.00 L265.05,296.07 L265.30,296.14 L265.55,296.21 L265.80,296.28 L266.05,296.35 L266.30,296.41 L266.55,296.48 L266.80,296.55 L267.05,296.61 L267.30,296.68 L267.55,296.75 L267.80,296.81 L268.05,296.88 L268.30,296.94 L268.55,297.01 L268.80,297.08 L269.05,297.14 L269.30,297.21 L269.55,297.28 L269.80,297.34 L270.05,297.41 L270.30,297.47 L270.55,297.54 L270.80,297.60 L271.05,297.67 L271.30,297.73 L271.55,297.79 L271.80,297.86 L272.05,297.92 L272.30,297.98 L272.55,298.04 L272.80,298.10 L273.05,298.16 L273.30,298.22 L273.55,298.28 L273.80,298.34 L274.05,298.39 L274.30,298.45 L274.55,298.50 L274.80,298.56 L275.05,298.61 L275.30,298.66 L275.55,298.71 L275.80,298.77 L276.05,298.82 L276.30,298.87 L276.55,298.92 L276.80,298.96 L277.05,299.01 L277.30,299.06 L277.55,299.11 L277.80,299.16 L278.05,299.20 L278.30,299.25 L278.55,299.30 L278.80,299.34 L279.05,299.39 L279.30,299.43 L279.55,299.47 L279.80,299.52 L280.05,299.56 L280.30,299.60 L280.55,299.64 L280.80,299.68 L281.05,299.72 L281.30,299.76 L281.55,299.80 L281.80,299.84 L282.05,299.88 L282.20,299.90" stroke="#030a55" fill="none" stroke-width="2.3" stroke-linejoin="round" stroke-linecap="butt"/>
</g>
<g clip-path="url(#cbr)">
<path d="M398.30,328.47 L398.80,329.51 L399.30,330.46 L399.80,331.33 L400.30,332.13 L400.80,332.85 L401.30,333.50 L401.80,334.10 L402.30,334.64 L402.80,335.13 L403.30,335.59 L403.80,336.01 L404.30,336.39 L404.80,336.76 L405.30,337.10 L405.80,337.44 L406.30,337.77 L406.80,338.09 L407.30,338.40 L407.80,338.71 L408.30,339.01 L408.80,339.30 L409.30,339.58 L409.80,339.85 L410.30,340.11 L410.80,340.35 L411.30,340.58 L411.80,340.80 L412.30,340.99 L412.80,341.17 L413.30,341.34 L413.80,341.48 L414.30,341.60 L414.80,341.70 L415.30,341.78 L415.80,341.84 L416.30,341.87 L416.80,341.89 L417.30,341.88 L417.80,341.86 L418.30,341.82 L418.80,341.76 L419.30,341.69 L419.80,341.62 L420.30,341.53 L420.80,341.43 L421.30,341.33 L421.80,341.22 L422.30,341.11 L422.80,341.00 L423.30,340.89 L423.80,340.78 L424.30,340.68 L424.80,340.58 L425.30,340.48 L425.80,340.39 L426.30,340.30 L426.80,340.21 L427.30,340.13 L427.80,340.05 L428.30,339.97 L428.80,339.90 L429.30,339.83 L429.80,339.76 L430.30,339.69 L430.80,339.63 L431.30,339.57 L431.80,339.51 L432.30,339.45 L432.80,339.40 L433.30,339.34 L433.80,339.29 L434.30,339.24 L434.80,339.19 L435.30,339.14 L435.80,339.10 L436.30,339.05 L436.80,339.01 L437.30,338.96 L437.80,338.92 L438.30,338.88 L438.80,338.83 L439.30,338.79 L439.80,338.75 L440.30,338.70 L440.80,338.66 L441.30,338.62 L441.80,338.57 L442.30,338.53 L442.80,338.48 L443.30,338.44 L443.80,338.39 L444.30,338.35 L444.80,338.30 L445.30,338.25 L445.80,338.21 L446.30,338.16 L446.80,338.11 L447.30,338.07 L447.80,338.02 L448.30,337.97 L448.80,337.92 L449.30,337.87 L449.80,337.82 L450.30,337.78 L450.80,337.73 L451.30,337.68 L451.80,337.63 L452.30,337.58 L452.80,337.53 L453.30,337.48 L453.80,337.43 L454.30,337.37 L454.80,337.32 L455.30,337.27 L455.80,337.22 L456.30,337.17 L456.80,337.12 L457.30,337.07 L457.80,337.01 L458.30,336.96 L458.80,336.91 L459.30,336.86 L459.80,336.80 L460.30,336.75 L460.80,336.70 L461.30,336.64 L461.80,336.59 L462.30,336.54 L462.80,336.48 L463.30,336.43 L463.80,336.38 L464.30,336.32 L464.80,336.27 L465.30,336.22 L465.80,336.16 L466.30,336.11 L466.80,336.05 L467.30,336.00 L467.80,335.94 L468.30,335.89 L468.80,335.84 L469.30,335.78 L469.80,335.73 L470.30,335.67 L470.80,335.62 L471.30,335.56 L471.80,335.51 L472.30,335.46 L472.80,335.40 L473.30,335.35 L473.80,335.29 L474.30,335.24 L474.80,335.18 L475.30,335.13 L475.80,335.07 L476.30,335.02 L476.80,334.97 L477.30,334.91 L477.80,334.86 L478.30,334.80 L478.80,334.75 L479.30,334.69 L479.80,334.64 L480.30,334.59 L480.80,334.53 L481.30,334.48 L481.80,334.43 L482.30,334.37 L482.80,334.32 L483.30,334.27 L483.80,334.21 L484.30,334.16 L484.80,334.11 L485.30,334.06 L485.80,334.00 L486.30,333.95 L486.80,333.90 L487.30,333.85 L487.80,333.79 L488.30,333.74 L488.80,333.69 L489.30,333.64 L489.80,333.59 L490.30,333.54 L490.80,333.49 L491.30,333.44 L491.80,333.39 L492.30,333.34 L492.80,333.29 L493.30,333.24 L493.80,333.19 L494.30,333.14 L494.80,333.09 L495.30,333.04 L495.80,332.99 L496.30,332.94 L496.80,332.90 L497.30,332.85 L497.80,332.80 L498.30,332.75 L498.80,332.71 L499.30,332.66 L499.80,332.61 L500.30,332.57 L500.80,332.52 L501.30,332.48 L501.80,332.43 L502.30,332.39 L502.80,332.34 L503.30,332.30 L503.80,332.25 L504.30,332.21 L504.80,332.16 L505.30,332.12 L505.80,332.08 L506.30,332.03 L506.80,331.99 L507.30,331.95 L507.80,331.90 L508.30,331.86 L508.80,331.82 L509.30,331.78 L509.80,331.74 L510.30,331.70 L510.80,331.65 L511.30,331.61 L511.80,331.57 L512.30,331.53 L512.80,331.49 L513.30,331.45 L513.80,331.41 L514.30,331.37 L514.80,331.33 L515.30,331.29 L515.80,331.25 L516.30,331.21 L516.80,331.18 L517.30,331.14 L517.80,331.10 L518.30,331.06 L518.80,331.02 L519.30,330.98 L519.80,330.95 L520.30,330.91 L520.80,330.87 L521.30,330.84 L521.80,330.80 L522.30,330.76 L522.80,330.73 L523.30,330.69 L523.80,330.65 L524.30,330.62 L524.80,330.58 L525.30,330.55 L525.80,330.51 L526.30,330.48 L526.80,330.44 L527.30,330.41 L527.80,330.37 L528.30,330.34 L528.80,330.30 L529.30,330.27 L529.80,330.23 L530.30,330.20 L530.80,330.17 L531.30,330.13 L531.80,330.10 L532.30,330.07 L532.80,330.03 L533.30,330.00 L533.80,329.97 L534.30,329.93 L534.80,329.90 L535.30,329.87 L535.80,329.84 L536.30,329.81 L536.80,329.77 L537.30,329.74 L537.80,329.71 L538.30,329.68 L538.80,329.65 L539.30,329.62 L539.80,329.59 L540.30,329.55 L540.80,329.52 L541.30,329.49 L541.80,329.46 L542.30,329.43 L542.80,329.40 L543.30,329.37 L543.80,329.34 L544.30,329.31 L544.80,329.28 L545.30,329.25 L545.80,329.22 L546.30,329.19 L546.80,329.16 L547.30,329.13 L547.80,329.11 L548.30,329.08 L548.80,329.05 L549.30,329.02 L549.80,328.99 L550.30,328.96 L550.80,328.93 L551.30,328.90 L551.80,328.88 L552.30,328.85 L552.80,328.82 L553.30,328.79 L553.80,328.76 L554.30,328.74 L554.80,328.71 L555.30,328.68 L555.80,328.65 L556.30,328.63 L556.80,328.60 L557.30,328.57 L557.80,328.54 L558.30,328.52 L558.80,328.49 L559.30,328.46 L559.80,328.44 L560.30,328.41 L560.80,328.38 L561.30,328.36 L561.80,328.33 L562.30,328.30 L562.80,328.28 L563.30,328.25 L563.80,328.22 L564.30,328.20 L564.80,328.17 L565.30,328.15 L565.80,328.12 L566.30,328.09 L566.80,328.07 L567.30,328.04 L567.80,328.02 L568.30,327.99 L568.80,327.96 L569.30,327.94 L569.80,327.91 L570.30,327.89 L570.80,327.86 L571.30,327.84 L571.80,327.81 L572.30,327.79 L572.80,327.76 L573.30,327.73 L573.80,327.71 L574.30,327.68 L574.80,327.66 L575.30,327.63 L575.80,327.61 L576.30,327.58 L576.80,327.56 L577.30,327.53 L577.80,327.51 L578.30,327.48 L578.80,327.46 L579.30,327.43 L579.80,327.41 L580.30,327.38 L580.80,327.36 L581.30,327.33 L581.80,327.31 L582.30,327.28 L582.80,327.26 L583.30,327.23 L583.80,327.21 L584.30,327.18 L584.80,327.16 L585.30,327.13 L585.80,327.11 L586.30,327.08 L586.80,327.06 L587.30,327.04 L587.80,327.01 L588.30,326.99 L588.80,326.96 L589.30,326.94 L589.80,326.91 L590.30,326.89 L590.80,326.86 L591.30,326.84 L591.80,326.81 L592.30,326.79 L592.80,326.76 L593.30,326.74 L593.80,326.71 L594.30,326.69 L594.80,326.66 L595.30,326.64 L595.80,326.61 L596.30,326.59 L596.80,326.56 L597.30,326.54 L597.80,326.51 L598.30,326.48 L598.80,326.46 L599.30,326.43 L599.80,326.41 L600.30,326.38 L600.80,326.36 L601.30,326.33 L601.80,326.31 L602.30,326.28 L602.80,326.26 L603.30,326.23 L603.80,326.20 L604.30,326.18 L604.80,326.15 L605.30,326.13 L605.80,326.10 L606.30,326.07 L606.80,326.05 L607.30,326.02 L607.80,326.00 L608.30,325.97 L608.80,325.94 L609.30,325.92 L609.80,325.89 L610.30,325.86 L610.80,325.84 L611.30,325.81 L611.80,325.78 L612.30,325.76 L612.80,325.73 L613.30,325.70 L613.80,325.68 L614.30,325.65 L614.80,325.62 L615.30,325.60 L615.80,325.57 L616.30,325.54 L616.80,325.51 L617.30,325.49 L617.80,325.46 L618.30,325.43 L618.80,325.40 L619.30,325.37 L619.80,325.35 L620.30,325.32 L620.80,325.29 L621.30,325.26 L621.80,325.23 L622.30,325.20 L622.80,325.18 L623.30,325.15 L623.80,325.12 L624.30,325.09 L624.80,325.06 L625.30,325.03 L625.80,325.00 L626.30,324.97 L626.80,324.94 L627.30,324.91 L627.80,324.88 L628.30,324.85 L628.80,324.82 L629.30,324.79 L629.80,324.76 L630.30,324.73 L630.70,324.71" stroke="#4fa9c9" fill="none" stroke-width="2.3" stroke-linejoin="round" stroke-linecap="butt"/>
<path d="M398.30,241.92 L398.80,241.99 L399.30,242.07 L399.80,242.14 L400.30,242.22 L400.80,242.29 L401.30,242.37 L401.80,242.44 L402.30,242.51 L402.80,242.59 L403.30,242.66 L403.80,242.73 L404.30,242.81 L404.80,242.88 L405.30,242.95 L405.80,243.02 L406.30,243.10 L406.80,243.17 L407.30,243.24 L407.80,243.31 L408.30,243.38 L408.80,243.45 L409.30,243.52 L409.80,243.60 L410.30,243.67 L410.80,243.74 L411.30,243.81 L411.80,243.88 L412.30,243.95 L412.80,244.02 L413.30,244.09 L413.80,244.16 L414.30,244.23 L414.80,244.30 L415.30,244.37 L415.80,244.44 L416.30,244.51 L416.80,244.58 L417.30,244.65 L417.80,244.72 L418.30,244.80 L418.80,244.87 L419.30,244.94 L419.80,245.01 L420.30,245.08 L420.80,245.15 L421.30,245.22 L421.80,245.29 L422.30,245.36 L422.80,245.43 L423.30,245.50 L423.80,245.58 L424.30,245.65 L424.80,245.72 L425.30,245.79 L425.80,245.86 L426.30,245.94 L426.80,246.01 L427.30,246.08 L427.80,246.15 L428.30,246.23 L428.80,246.30 L429.30,246.37 L429.80,246.45 L430.30,246.52 L430.80,246.60 L431.30,246.67 L431.80,246.75 L432.30,246.82 L432.80,246.90 L433.30,246.97 L433.80,247.05 L434.30,247.12 L434.80,247.20 L435.30,247.28 L435.80,247.36 L436.30,247.43 L436.80,247.51 L437.30,247.59 L437.80,247.67 L438.30,247.75 L438.80,247.83 L439.30,247.91 L439.80,247.99 L440.30,248.07 L440.80,248.15 L441.30,248.23 L441.80,248.31 L442.30,248.40 L442.80,248.48 L443.30,248.56 L443.80,248.65 L444.30,248.73 L444.80,248.82 L445.30,248.90 L445.80,248.99 L446.30,249.07 L446.80,249.16 L447.30,249.25 L447.80,249.34 L448.30,249.42 L448.80,249.51 L449.30,249.60 L449.80,249.69 L450.30,249.79 L450.80,249.88 L451.30,249.97 L451.80,250.06 L452.30,250.15 L452.80,250.25 L453.30,250.34 L453.80,250.44 L454.30,250.54 L454.80,250.63 L455.30,250.73 L455.80,250.83 L456.30,250.93 L456.80,251.03 L457.30,251.13 L457.80,251.23 L458.30,251.33 L458.80,251.43 L459.30,251.53 L459.80,251.64 L460.30,251.74 L460.80,251.85 L461.30,251.95 L461.80,252.06 L462.30,252.17 L462.80,252.28 L463.30,252.39 L463.80,252.50 L464.30,252.61 L464.80,252.72 L465.30,252.83 L465.80,252.95 L466.30,253.06 L466.80,253.18 L467.30,253.29 L467.80,253.41 L468.30,253.53 L468.80,253.65 L469.30,253.77 L469.80,253.89 L470.30,254.01 L470.80,254.14 L471.30,254.26 L471.80,254.39 L472.30,254.51 L472.80,254.64 L473.30,254.77 L473.80,254.90 L474.30,255.03 L474.80,255.17 L475.30,255.30 L475.80,255.44 L476.30,255.58 L476.80,255.71 L477.30,255.85 L477.80,256.00 L478.30,256.14 L478.80,256.28 L479.30,256.43 L479.80,256.58 L480.30,256.73 L480.80,256.88 L481.30,257.03 L481.80,257.18 L482.30,257.34 L482.80,257.49 L483.30,257.65 L483.80,257.81 L484.30,257.98 L484.80,258.14 L485.30,258.30 L485.80,258.47 L486.30,258.64 L486.80,258.81 L487.30,258.98 L487.80,259.16 L488.30,259.34 L488.80,259.51 L489.30,259.69 L489.80,259.88 L490.30,260.06 L490.80,260.25 L491.30,260.44 L491.80,260.63 L492.30,260.82 L492.80,261.01 L493.30,261.21 L493.80,261.41 L494.30,261.61 L494.80,261.81 L495.30,262.02 L495.80,262.23 L496.30,262.44 L496.80,262.65 L497.30,262.86 L497.80,263.08 L498.30,263.30 L498.80,263.52 L499.30,263.74 L499.80,263.97 L500.30,264.20 L500.80,264.43 L501.30,264.66 L501.80,264.90 L502.30,265.14 L502.80,265.38 L503.30,265.62 L503.80,265.87 L504.30,266.12 L504.80,266.37 L505.30,266.62 L505.80,266.88 L506.30,267.14 L506.80,267.40 L507.30,267.66 L507.80,267.93 L508.30,268.20 L508.80,268.47 L509.30,268.75 L509.80,269.03 L510.30,269.31 L510.80,269.60 L511.30,269.88 L511.80,270.17 L512.30,270.47 L512.80,270.76 L513.30,271.06 L513.80,271.37 L514.30,271.67 L514.80,271.98 L515.30,272.29 L515.80,272.61 L516.30,272.92 L516.80,273.25 L517.30,273.57 L517.80,273.90 L518.30,274.23 L518.80,274.56 L519.30,274.90 L519.80,275.24 L520.30,275.58 L520.80,275.92 L521.30,276.26 L521.80,276.61 L522.30,276.96 L522.80,277.30 L523.30,277.65 L523.80,278.00 L524.30,278.36 L524.80,278.71 L525.30,279.06 L525.80,279.41 L526.30,279.76 L526.80,280.11 L527.30,280.47 L527.80,280.82 L528.30,281.17 L528.80,281.51 L529.30,281.86 L529.80,282.21 L530.30,282.55 L530.80,282.90 L531.30,283.24 L531.80,283.57 L532.30,283.91 L532.80,284.24 L533.30,284.57 L533.80,284.90 L534.30,285.23 L534.80,285.55 L535.30,285.87 L535.80,286.18 L536.30,286.49 L536.80,286.80 L537.30,287.10 L537.80,287.40 L538.30,287.69 L538.80,287.98 L539.30,288.27 L539.80,288.56 L540.30,288.84 L540.80,289.12 L541.30,289.39 L541.80,289.66 L542.30,289.93 L542.80,290.20 L543.30,290.46 L543.80,290.72 L544.30,290.97 L544.80,291.23 L545.30,291.48 L545.80,291.73 L546.30,291.98 L546.80,292.22 L547.30,292.46 L547.80,292.70 L548.30,292.94 L548.80,293.17 L549.30,293.40 L549.80,293.63 L550.30,293.86 L550.80,294.09 L551.30,294.31 L551.80,294.54 L552.30,294.76 L552.80,294.98 L553.30,295.20 L553.80,295.41 L554.30,295.63 L554.80,295.84 L555.30,296.05 L555.80,296.26 L556.30,296.46 L556.80,296.67 L557.30,296.87 L557.80,297.07 L558.30,297.27 L558.80,297.47 L559.30,297.66 L559.80,297.86 L560.30,298.05 L560.80,298.24 L561.30,298.43 L561.80,298.61 L562.30,298.79 L562.80,298.98 L563.30,299.16 L563.80,299.33 L564.30,299.51 L564.80,299.68 L565.30,299.85 L565.80,300.02 L566.30,300.19 L566.80,300.36 L567.30,300.52 L567.80,300.68 L568.30,300.84 L568.80,301.00 L569.30,301.15 L569.80,301.30 L570.30,301.46 L570.80,301.60 L571.30,301.75 L571.80,301.89 L572.30,302.04 L572.80,302.18 L573.30,302.31 L573.80,302.45 L574.30,302.58 L574.80,302.71 L575.30,302.84 L575.80,302.97 L576.30,303.09 L576.80,303.22 L577.30,303.34 L577.80,303.45 L578.30,303.57 L578.80,303.68 L579.30,303.80 L579.80,303.91 L580.30,304.01 L580.80,304.12 L581.30,304.22 L581.80,304.33 L582.30,304.43 L582.80,304.52 L583.30,304.62 L583.80,304.71 L584.30,304.81 L584.80,304.90 L585.30,304.99 L585.80,305.07 L586.30,305.16 L586.80,305.24 L587.30,305.33 L587.80,305.41 L588.30,305.48 L588.80,305.56 L589.30,305.64 L589.80,305.71 L590.30,305.78 L590.80,305.86 L591.30,305.93 L591.80,305.99 L592.30,306.06 L592.80,306.13 L593.30,306.19 L593.80,306.25 L594.30,306.31 L594.80,306.37 L595.30,306.43 L595.80,306.49 L596.30,306.55 L596.80,306.60 L597.30,306.65 L597.80,306.71 L598.30,306.76 L598.80,306.81 L599.30,306.86 L599.80,306.91 L600.30,306.95 L600.80,307.00 L601.30,307.04 L601.80,307.09 L602.30,307.13 L602.80,307.17 L603.30,307.21 L603.80,307.25 L604.30,307.29 L604.80,307.33 L605.30,307.37 L605.80,307.40 L606.30,307.44 L606.80,307.48 L607.30,307.51 L607.80,307.54 L608.30,307.58 L608.80,307.61 L609.30,307.64 L609.80,307.67 L610.30,307.70 L610.80,307.73 L611.30,307.76 L611.80,307.79 L612.30,307.82 L612.80,307.85 L613.30,307.87 L613.80,307.90 L614.30,307.93 L614.80,307.95 L615.30,307.98 L615.80,308.01 L616.30,308.03 L616.80,308.06 L617.30,308.08 L617.80,308.11 L618.30,308.13 L618.80,308.15 L619.30,308.18 L619.80,308.20 L620.30,308.22 L620.80,308.25 L621.30,308.27 L621.80,308.29 L622.30,308.32 L622.80,308.34 L623.30,308.36 L623.80,308.39 L624.30,308.41 L624.80,308.43 L625.30,308.46 L625.80,308.48 L626.30,308.50 L626.80,308.53 L627.30,308.55 L627.80,308.58 L628.30,308.60 L628.80,308.63 L629.30,308.65 L629.80,308.68 L630.30,308.70 L630.70,308.72" stroke="#04578d" fill="none" stroke-width="2.3" stroke-linejoin="round" stroke-linecap="butt"/>
<path d="M398.50,241.50 L399.00,241.57 L399.50,241.64 L400.00,241.71 L400.50,241.78 L401.00,241.85 L401.50,241.92 L402.00,241.99 L402.50,242.06 L403.00,242.13 L403.50,242.20 L404.00,242.27 L404.50,242.34 L405.00,242.41 L405.50,242.48 L406.00,242.55 L406.50,242.62 L407.00,242.68 L407.50,242.75 L408.00,242.82 L408.50,242.89 L409.00,242.96 L409.50,243.02 L410.00,243.09 L410.50,243.16 L411.00,243.23 L411.50,243.29 L412.00,243.36 L412.50,243.43 L413.00,243.49 L413.50,243.56 L414.00,243.63 L414.50,243.69 L415.00,243.76 L415.50,243.83 L416.00,243.89 L416.50,243.96 L417.00,244.02 L417.50,244.09 L418.00,244.16 L418.50,244.22 L419.00,244.29 L419.50,244.35 L420.00,244.42 L420.50,244.48 L421.00,244.55 L421.50,244.61 L422.00,244.68 L422.50,244.74 L423.00,244.81 L423.50,244.87 L424.00,244.94 L424.50,245.00 L425.00,245.06 L425.50,245.13 L426.00,245.19 L426.50,245.26 L427.00,245.32 L427.50,245.38 L428.00,245.45 L428.50,245.51 L429.00,245.57 L429.50,245.64 L430.00,245.70 L430.50,245.76 L431.00,245.82 L431.50,245.89 L432.00,245.95 L432.50,246.01 L433.00,246.07 L433.50,246.14 L434.00,246.20 L434.50,246.26 L435.00,246.32 L435.50,246.39 L436.00,246.45 L436.50,246.51 L437.00,246.57 L437.50,246.63 L438.00,246.69 L438.50,246.76 L439.00,246.82 L439.50,246.88 L440.00,246.94 L440.50,247.00 L441.00,247.06 L441.50,247.12 L442.00,247.18 L442.50,247.24 L443.00,247.31 L443.50,247.37 L444.00,247.43 L444.50,247.49 L445.00,247.55 L445.50,247.61 L446.00,247.67 L446.50,247.73 L447.00,247.79 L447.50,247.85 L448.00,247.91 L448.50,247.97 L449.00,248.03 L449.50,248.09 L450.00,248.15 L450.50,248.21 L451.00,248.27 L451.50,248.33 L452.00,248.39 L452.50,248.45 L453.00,248.50 L453.50,248.56 L454.00,248.62 L454.50,248.68 L455.00,248.74 L455.50,248.80 L456.00,248.86 L456.50,248.92 L457.00,248.98 L457.50,249.04 L458.00,249.09 L458.50,249.15 L459.00,249.21 L459.50,249.27 L460.00,249.33 L460.50,249.39 L461.00,249.44 L461.50,249.50 L462.00,249.56 L462.50,249.62 L463.00,249.68 L463.50,249.74 L464.00,249.79 L464.50,249.85 L465.00,249.91 L465.50,249.97 L466.00,250.03 L466.50,250.08 L467.00,250.14 L467.50,250.20 L468.00,250.26 L468.50,250.32 L469.00,250.37 L469.50,250.43 L470.00,250.49 L470.50,250.55 L471.00,250.61 L471.50,250.67 L472.00,250.73 L472.50,250.79 L473.00,250.85 L473.50,250.92 L474.00,250.98 L474.50,251.04 L475.00,251.10 L475.50,251.17 L476.00,251.23 L476.50,251.30 L477.00,251.37 L477.50,251.43 L478.00,251.50 L478.50,251.57 L479.00,251.64 L479.50,251.71 L480.00,251.78 L480.50,251.85 L481.00,251.93 L481.50,252.00 L482.00,252.08 L482.50,252.15 L483.00,252.23 L483.50,252.31 L484.00,252.39 L484.50,252.47 L485.00,252.55 L485.50,252.63 L486.00,252.72 L486.50,252.80 L487.00,252.89 L487.50,252.98 L488.00,253.06 L488.50,253.15 L489.00,253.24 L489.50,253.34 L490.00,253.43 L490.50,253.52 L491.00,253.62 L491.50,253.71 L492.00,253.81 L492.50,253.91 L493.00,254.00 L493.50,254.10 L494.00,254.21 L494.50,254.31 L495.00,254.41 L495.50,254.52 L496.00,254.62 L496.50,254.73 L497.00,254.84 L497.50,254.95 L498.00,255.06 L498.50,255.17 L499.00,255.28 L499.50,255.39 L500.00,255.51 L500.50,255.62 L501.00,255.74 L501.50,255.86 L502.00,255.97 L502.50,256.09 L503.00,256.21 L503.50,256.33 L504.00,256.45 L504.50,256.58 L505.00,256.70 L505.50,256.82 L506.00,256.95 L506.50,257.07 L507.00,257.20 L507.50,257.33 L508.00,257.45 L508.50,257.58 L509.00,257.71 L509.50,257.84 L510.00,257.97 L510.50,258.10 L511.00,258.23 L511.50,258.36 L512.00,258.49 L512.50,258.62 L513.00,258.76 L513.50,258.89 L514.00,259.02 L514.50,259.16 L515.00,259.29 L515.50,259.43 L516.00,259.56 L516.50,259.70 L517.00,259.83 L517.50,259.97 L518.00,260.10 L518.50,260.24 L519.00,260.37 L519.50,260.51 L520.00,260.65 L520.50,260.79 L521.00,260.92 L521.50,261.06 L522.00,261.20 L522.50,261.34 L523.00,261.48 L523.50,261.62 L524.00,261.76 L524.50,261.90 L525.00,262.04 L525.50,262.18 L526.00,262.33 L526.50,262.47 L527.00,262.62 L527.50,262.77 L528.00,262.92 L528.50,263.07 L529.00,263.22 L529.50,263.37 L530.00,263.52 L530.50,263.68 L531.00,263.84 L531.50,264.00 L532.00,264.16 L532.50,264.32 L533.00,264.48 L533.50,264.65 L534.00,264.81 L534.50,264.98 L535.00,265.15 L535.50,265.32 L536.00,265.49 L536.50,265.66 L537.00,265.84 L537.50,266.02 L538.00,266.19 L538.50,266.37 L539.00,266.56 L539.50,266.74 L540.00,266.92 L540.50,267.11 L541.00,267.29 L541.50,267.48 L542.00,267.67 L542.50,267.86 L543.00,268.05 L543.50,268.25 L544.00,268.44 L544.50,268.64 L545.00,268.84 L545.50,269.04 L546.00,269.24 L546.50,269.44 L547.00,269.64 L547.50,269.85 L548.00,270.05 L548.50,270.26 L549.00,270.47 L549.50,270.68 L550.00,270.89 L550.50,271.10 L551.00,271.32 L551.50,271.53 L552.00,271.75 L552.50,271.96 L553.00,272.18 L553.50,272.40 L554.00,272.62 L554.50,272.83 L555.00,273.05 L555.50,273.28 L556.00,273.50 L556.50,273.72 L557.00,273.94 L557.50,274.17 L558.00,274.39 L558.50,274.62 L559.00,274.84 L559.50,275.07 L560.00,275.29 L560.50,275.52 L561.00,275.75 L561.50,275.98 L562.00,276.20 L562.50,276.43 L563.00,276.66 L563.50,276.89 L564.00,277.12 L564.50,277.35 L565.00,277.57 L565.50,277.80 L566.00,278.03 L566.50,278.26 L567.00,278.49 L567.50,278.72 L568.00,278.95 L568.50,279.18 L569.00,279.40 L569.50,279.63 L570.00,279.86 L570.50,280.09 L571.00,280.32 L571.50,280.54 L572.00,280.77 L572.50,281.00 L573.00,281.22 L573.50,281.45 L574.00,281.67 L574.50,281.90 L575.00,282.12 L575.50,282.34 L576.00,282.57 L576.50,282.79 L577.00,283.01 L577.50,283.23 L578.00,283.46 L578.50,283.68 L579.00,283.90 L579.50,284.12 L580.00,284.33 L580.50,284.55 L581.00,284.77 L581.50,284.99 L582.00,285.20 L582.50,285.42 L583.00,285.63 L583.50,285.85 L584.00,286.06 L584.50,286.27 L585.00,286.48 L585.50,286.69 L586.00,286.90 L586.50,287.11 L587.00,287.32 L587.50,287.52 L588.00,287.73 L588.50,287.93 L589.00,288.14 L589.50,288.34 L590.00,288.54 L590.50,288.74 L591.00,288.94 L591.50,289.14 L592.00,289.34 L592.50,289.54 L593.00,289.73 L593.50,289.92 L594.00,290.12 L594.50,290.31 L595.00,290.50 L595.50,290.69 L596.00,290.88 L596.50,291.06 L597.00,291.25 L597.50,291.43 L598.00,291.62 L598.50,291.80 L599.00,291.98 L599.50,292.16 L600.00,292.33 L600.50,292.51 L601.00,292.68 L601.50,292.86 L602.00,293.03 L602.50,293.20 L603.00,293.37 L603.50,293.53 L604.00,293.70 L604.50,293.86 L605.00,294.02 L605.50,294.19 L606.00,294.34 L606.50,294.50 L607.00,294.66 L607.50,294.81 L608.00,294.96 L608.50,295.11 L609.00,295.26 L609.50,295.41 L610.00,295.55 L610.50,295.70 L611.00,295.84 L611.50,295.98 L612.00,296.12 L612.50,296.25 L613.00,296.39 L613.50,296.52 L614.00,296.65 L614.50,296.78 L615.00,296.90 L615.50,297.03 L616.00,297.15 L616.50,297.27 L617.00,297.39 L617.50,297.50 L618.00,297.62 L618.50,297.73 L619.00,297.84 L619.50,297.95 L620.00,298.05 L620.50,298.16 L621.00,298.26 L621.50,298.36 L622.00,298.45 L622.50,298.55 L623.00,298.64 L623.50,298.73 L624.00,298.82 L624.50,298.90 L625.00,298.98 L625.50,299.07 L626.00,299.14 L626.50,299.22 L627.00,299.29 L627.50,299.36 L628.00,299.43 L628.50,299.50 L629.00,299.56 L629.50,299.62 L630.00,299.68 L630.50,299.73 L630.90,299.78" stroke="#030a55" fill="none" stroke-width="2.3" stroke-linejoin="round" stroke-linecap="butt"/>
</g>
<path d="M65.48,156.90v-2.8 M65.48,16.40v2.8 M96.44,156.90v-2.8 M96.44,16.40v2.8 M127.40,156.90v-2.8 M127.40,16.40v2.8 M158.36,156.90v-2.8 M158.36,16.40v2.8 M189.32,156.90v-2.8 M189.32,16.40v2.8 M220.28,156.90v-2.8 M220.28,16.40v2.8 M251.24,156.90v-2.8 M251.24,16.40v2.8 M282.20,156.90v-2.8 M282.20,16.40v2.8 M50.00,49.14h1.6 M282.20,49.14h-1.6 M50.00,40.89h1.6 M282.20,40.89h-1.6 M50.00,35.04h1.6 M282.20,35.04h-1.6 M50.00,30.50h1.6 M282.20,30.50h-1.6 M50.00,26.79h1.6 M282.20,26.79h-1.6 M50.00,23.65h1.6 M282.20,23.65h-1.6 M50.00,20.94h1.6 M282.20,20.94h-1.6 M50.00,18.54h1.6 M282.20,18.54h-1.6 M50.00,63.23h2.8 M282.20,63.23h-2.8 M50.00,95.97h1.6 M282.20,95.97h-1.6 M50.00,87.72h1.6 M282.20,87.72h-1.6 M50.00,81.87h1.6 M282.20,81.87h-1.6 M50.00,77.33h1.6 M282.20,77.33h-1.6 M50.00,73.62h1.6 M282.20,73.62h-1.6 M50.00,70.49h1.6 M282.20,70.49h-1.6 M50.00,67.77h1.6 M282.20,67.77h-1.6 M50.00,65.38h1.6 M282.20,65.38h-1.6 M50.00,110.07h2.8 M282.20,110.07h-2.8 M50.00,142.80h1.6 M282.20,142.80h-1.6 M50.00,134.55h1.6 M282.20,134.55h-1.6 M50.00,128.70h1.6 M282.20,128.70h-1.6 M50.00,124.16h1.6 M282.20,124.16h-1.6 M50.00,120.46h1.6 M282.20,120.46h-1.6 M50.00,117.32h1.6 M282.20,117.32h-1.6 M50.00,114.61h1.6 M282.20,114.61h-1.6 M50.00,112.21h1.6 M282.20,112.21h-1.6" stroke="#222" stroke-width="0.9" fill="none"/>
<rect x="50.00" y="16.40" width="232.20" height="140.50" fill="none" stroke="#444" stroke-width="1.0"/>
<text x="65.78" y="174.00" text-anchor="middle" font-size="13.6">10</text>
<text x="96.74" y="174.00" text-anchor="middle" font-size="13.6">20</text>
<text x="127.70" y="174.00" text-anchor="middle" font-size="13.6">30</text>
<text x="158.66" y="174.00" text-anchor="middle" font-size="13.6">40</text>
<text x="189.62" y="174.00" text-anchor="middle" font-size="13.6">50</text>
<text x="220.58" y="174.00" text-anchor="middle" font-size="13.6">60</text>
<text x="251.54" y="174.00" text-anchor="middle" font-size="13.6">70</text>
<text x="282.50" y="174.00" text-anchor="middle" font-size="13.6">80</text>
<text x="41.7" y="22.60" text-anchor="end" font-size="13.5" transform="translate(0,0)">10<tspan dy="-8.4" font-size="9.3">1</tspan></text>
<text x="41.7" y="69.43" text-anchor="end" font-size="13.5" transform="translate(0,0)">10<tspan dy="-8.4" font-size="9.3">0</tspan></text>
<text x="41.7" y="116.27" text-anchor="end" font-size="13.5" transform="translate(0,0)">10<tspan dy="-8.4" font-size="9.3">-1</tspan></text>
<text x="41.7" y="163.10" text-anchor="end" font-size="13.5" transform="translate(0,0)">10<tspan dy="-8.4" font-size="9.3">-2</tspan></text>
<text x="166.10" y="190.20" text-anchor="middle" font-size="14">Radius [au]</text>
<path d="M413.98,156.90v-2.8 M413.98,16.40v2.8 M444.94,156.90v-2.8 M444.94,16.40v2.8 M475.90,156.90v-2.8 M475.90,16.40v2.8 M506.86,156.90v-2.8 M506.86,16.40v2.8 M537.82,156.90v-2.8 M537.82,16.40v2.8 M568.78,156.90v-2.8 M568.78,16.40v2.8 M599.74,156.90v-2.8 M599.74,16.40v2.8 M630.70,156.90v-2.8 M630.70,16.40v2.8 M398.50,49.14h1.6 M630.70,49.14h-1.6 M398.50,40.89h1.6 M630.70,40.89h-1.6 M398.50,35.04h1.6 M630.70,35.04h-1.6 M398.50,30.50h1.6 M630.70,30.50h-1.6 M398.50,26.79h1.6 M630.70,26.79h-1.6 M398.50,23.65h1.6 M630.70,23.65h-1.6 M398.50,20.94h1.6 M630.70,20.94h-1.6 M398.50,18.54h1.6 M630.70,18.54h-1.6 M398.50,63.23h2.8 M630.70,63.23h-2.8 M398.50,95.97h1.6 M630.70,95.97h-1.6 M398.50,87.72h1.6 M630.70,87.72h-1.6 M398.50,81.87h1.6 M630.70,81.87h-1.6 M398.50,77.33h1.6 M630.70,77.33h-1.6 M398.50,73.62h1.6 M630.70,73.62h-1.6 M398.50,70.49h1.6 M630.70,70.49h-1.6 M398.50,67.77h1.6 M630.70,67.77h-1.6 M398.50,65.38h1.6 M630.70,65.38h-1.6 M398.50,110.07h2.8 M630.70,110.07h-2.8 M398.50,142.80h1.6 M630.70,142.80h-1.6 M398.50,134.55h1.6 M630.70,134.55h-1.6 M398.50,128.70h1.6 M630.70,128.70h-1.6 M398.50,124.16h1.6 M630.70,124.16h-1.6 M398.50,120.46h1.6 M630.70,120.46h-1.6 M398.50,117.32h1.6 M630.70,117.32h-1.6 M398.50,114.61h1.6 M630.70,114.61h-1.6 M398.50,112.21h1.6 M630.70,112.21h-1.6" stroke="#222" stroke-width="0.9" fill="none"/>
<rect x="398.50" y="16.40" width="232.20" height="140.50" fill="none" stroke="#444" stroke-width="1.0"/>
<text x="414.28" y="174.00" text-anchor="middle" font-size="13.6">10</text>
<text x="445.24" y="174.00" text-anchor="middle" font-size="13.6">20</text>
<text x="476.20" y="174.00" text-anchor="middle" font-size="13.6">30</text>
<text x="507.16" y="174.00" text-anchor="middle" font-size="13.6">40</text>
<text x="538.12" y="174.00" text-anchor="middle" font-size="13.6">50</text>
<text x="569.08" y="174.00" text-anchor="middle" font-size="13.6">60</text>
<text x="600.04" y="174.00" text-anchor="middle" font-size="13.6">70</text>
<text x="631.00" y="174.00" text-anchor="middle" font-size="13.6">80</text>
<text x="41.7" y="22.60" text-anchor="end" font-size="13.5" transform="translate(348.5,0)">10<tspan dy="-8.4" font-size="9.3">1</tspan></text>
<text x="41.7" y="69.43" text-anchor="end" font-size="13.5" transform="translate(348.5,0)">10<tspan dy="-8.4" font-size="9.3">0</tspan></text>
<text x="41.7" y="116.27" text-anchor="end" font-size="13.5" transform="translate(348.5,0)">10<tspan dy="-8.4" font-size="9.3">-1</tspan></text>
<text x="41.7" y="163.10" text-anchor="end" font-size="13.5" transform="translate(348.5,0)">10<tspan dy="-8.4" font-size="9.3">-2</tspan></text>
<text x="514.60" y="190.20" text-anchor="middle" font-size="14">Radius [au]</text>
<path d="M65.48,339.80v-2.8 M65.48,199.40v2.8 M96.44,339.80v-2.8 M96.44,199.40v2.8 M127.40,339.80v-2.8 M127.40,199.40v2.8 M158.36,339.80v-2.8 M158.36,199.40v2.8 M189.32,339.80v-2.8 M189.32,199.40v2.8 M220.28,339.80v-2.8 M220.28,199.40v2.8 M251.24,339.80v-2.8 M251.24,199.40v2.8 M282.20,339.80v-2.8 M282.20,199.40v2.8 M50.00,219.03h1.6 M282.20,219.03h-1.6 M50.00,214.08h1.6 M282.20,214.08h-1.6 M50.00,210.57h1.6 M282.20,210.57h-1.6 M50.00,207.85h1.6 M282.20,207.85h-1.6 M50.00,205.63h1.6 M282.20,205.63h-1.6 M50.00,203.75h1.6 M282.20,203.75h-1.6 M50.00,202.12h1.6 M282.20,202.12h-1.6 M50.00,200.68h1.6 M282.20,200.68h-1.6 M50.00,227.48h2.8 M282.20,227.48h-2.8 M50.00,247.11h1.6 M282.20,247.11h-1.6 M50.00,242.16h1.6 M282.20,242.16h-1.6 M50.00,238.65h1.6 M282.20,238.65h-1.6 M50.00,235.93h1.6 M282.20,235.93h-1.6 M50.00,233.71h1.6 M282.20,233.71h-1.6 M50.00,231.83h1.6 M282.20,231.83h-1.6 M50.00,230.20h1.6 M282.20,230.20h-1.6 M50.00,228.76h1.6 M282.20,228.76h-1.6 M50.00,255.56h2.8 M282.20,255.56h-2.8 M50.00,275.19h1.6 M282.20,275.19h-1.6 M50.00,270.24h1.6 M282.20,270.24h-1.6 M50.00,266.73h1.6 M282.20,266.73h-1.6 M50.00,264.01h1.6 M282.20,264.01h-1.6 M50.00,261.79h1.6 M282.20,261.79h-1.6 M50.00,259.91h1.6 M282.20,259.91h-1.6 M50.00,258.28h1.6 M282.20,258.28h-1.6 M50.00,256.84h1.6 M282.20,256.84h-1.6 M50.00,283.64h2.8 M282.20,283.64h-2.8 M50.00,303.27h1.6 M282.20,303.27h-1.6 M50.00,298.32h1.6 M282.20,298.32h-1.6 M50.00,294.81h1.6 M282.20,294.81h-1.6 M50.00,292.09h1.6 M282.20,292.09h-1.6 M50.00,289.87h1.6 M282.20,289.87h-1.6 M50.00,287.99h1.6 M282.20,287.99h-1.6 M50.00,286.36h1.6 M282.20,286.36h-1.6 M50.00,284.92h1.6 M282.20,284.92h-1.6 M50.00,311.72h2.8 M282.20,311.72h-2.8 M50.00,331.35h1.6 M282.20,331.35h-1.6 M50.00,326.40h1.6 M282.20,326.40h-1.6 M50.00,322.89h1.6 M282.20,322.89h-1.6 M50.00,320.17h1.6 M282.20,320.17h-1.6 M50.00,317.95h1.6 M282.20,317.95h-1.6 M50.00,316.07h1.6 M282.20,316.07h-1.6 M50.00,314.44h1.6 M282.20,314.44h-1.6 M50.00,313.00h1.6 M282.20,313.00h-1.6" stroke="#222" stroke-width="0.9" fill="none"/>
<rect x="50.00" y="199.40" width="232.20" height="140.40" fill="none" stroke="#444" stroke-width="1.0"/>
<text x="65.78" y="356.90" text-anchor="middle" font-size="13.6">10</text>
<text x="96.74" y="356.90" text-anchor="middle" font-size="13.6">20</text>
<text x="127.70" y="356.90" text-anchor="middle" font-size="13.6">30</text>
<text x="158.66" y="356.90" text-anchor="middle" font-size="13.6">40</text>
<text x="189.62" y="356.90" text-anchor="middle" font-size="13.6">50</text>
<text x="220.58" y="356.90" text-anchor="middle" font-size="13.6">60</text>
<text x="251.54" y="356.90" text-anchor="middle" font-size="13.6">70</text>
<text x="282.50" y="356.90" text-anchor="middle" font-size="13.6">80</text>
<text x="41.7" y="205.60" text-anchor="end" font-size="13.5" transform="translate(0,0)">10<tspan dy="-8.4" font-size="9.3">1</tspan></text>
<text x="41.7" y="233.68" text-anchor="end" font-size="13.5" transform="translate(0,0)">10<tspan dy="-8.4" font-size="9.3">0</tspan></text>
<text x="41.7" y="261.76" text-anchor="end" font-size="13.5" transform="translate(0,0)">10<tspan dy="-8.4" font-size="9.3">-1</tspan></text>
<text x="41.7" y="289.84" text-anchor="end" font-size="13.5" transform="translate(0,0)">10<tspan dy="-8.4" font-size="9.3">-2</tspan></text>
<text x="41.7" y="317.92" text-anchor="end" font-size="13.5" transform="translate(0,0)">10<tspan dy="-8.4" font-size="9.3">-3</tspan></text>
<text x="41.7" y="346.00" text-anchor="end" font-size="13.5" transform="translate(0,0)">10<tspan dy="-8.4" font-size="9.3">-4</tspan></text>
<text x="166.10" y="373.10" text-anchor="middle" font-size="14">Radius [au]</text>
<path d="M413.98,339.80v-2.8 M413.98,199.40v2.8 M444.94,339.80v-2.8 M444.94,199.40v2.8 M475.90,339.80v-2.8 M475.90,199.40v2.8 M506.86,339.80v-2.8 M506.86,199.40v2.8 M537.82,339.80v-2.8 M537.82,199.40v2.8 M568.78,339.80v-2.8 M568.78,199.40v2.8 M599.74,339.80v-2.8 M599.74,199.40v2.8 M630.70,339.80v-2.8 M630.70,199.40v2.8 M398.50,219.03h1.6 M630.70,219.03h-1.6 M398.50,214.08h1.6 M630.70,214.08h-1.6 M398.50,210.57h1.6 M630.70,210.57h-1.6 M398.50,207.85h1.6 M630.70,207.85h-1.6 M398.50,205.63h1.6 M630.70,205.63h-1.6 M398.50,203.75h1.6 M630.70,203.75h-1.6 M398.50,202.12h1.6 M630.70,202.12h-1.6 M398.50,200.68h1.6 M630.70,200.68h-1.6 M398.50,227.48h2.8 M630.70,227.48h-2.8 M398.50,247.11h1.6 M630.70,247.11h-1.6 M398.50,242.16h1.6 M630.70,242.16h-1.6 M398.50,238.65h1.6 M630.70,238.65h-1.6 M398.50,235.93h1.6 M630.70,235.93h-1.6 M398.50,233.71h1.6 M630.70,233.71h-1.6 M398.50,231.83h1.6 M630.70,231.83h-1.6 M398.50,230.20h1.6 M630.70,230.20h-1.6 M398.50,228.76h1.6 M630.70,228.76h-1.6 M398.50,255.56h2.8 M630.70,255.56h-2.8 M398.50,275.19h1.6 M630.70,275.19h-1.6 M398.50,270.24h1.6 M630.70,270.24h-1.6 M398.50,266.73h1.6 M630.70,266.73h-1.6 M398.50,264.01h1.6 M630.70,264.01h-1.6 M398.50,261.79h1.6 M630.70,261.79h-1.6 M398.50,259.91h1.6 M630.70,259.91h-1.6 M398.50,258.28h1.6 M630.70,258.28h-1.6 M398.50,256.84h1.6 M630.70,256.84h-1.6 M398.50,283.64h2.8 M630.70,283.64h-2.8 M398.50,303.27h1.6 M630.70,303.27h-1.6 M398.50,298.32h1.6 M630.70,298.32h-1.6 M398.50,294.81h1.6 M630.70,294.81h-1.6 M398.50,292.09h1.6 M630.70,292.09h-1.6 M398.50,289.87h1.6 M630.70,289.87h-1.6 M398.50,287.99h1.6 M630.70,287.99h-1.6 M398.50,286.36h1.6 M630.70,286.36h-1.6 M398.50,284.92h1.6 M630.70,284.92h-1.6 M398.50,311.72h2.8 M630.70,311.72h-2.8 M398.50,331.35h1.6 M630.70,331.35h-1.6 M398.50,326.40h1.6 M630.70,326.40h-1.6 M398.50,322.89h1.6 M630.70,322.89h-1.6 M398.50,320.17h1.6 M630.70,320.17h-1.6 M398.50,317.95h1.6 M630.70,317.95h-1.6 M398.50,316.07h1.6 M630.70,316.07h-1.6 M398.50,314.44h1.6 M630.70,314.44h-1.6 M398.50,313.00h1.6 M630.70,313.00h-1.6" stroke="#222" stroke-width="0.9" fill="none"/>
<rect x="398.50" y="199.40" width="232.20" height="140.40" fill="none" stroke="#444" stroke-width="1.0"/>
<text x="414.28" y="356.90" text-anchor="middle" font-size="13.6">10</text>
<text x="445.24" y="356.90" text-anchor="middle" font-size="13.6">20</text>
<text x="476.20" y="356.90" text-anchor="middle" font-size="13.6">30</text>
<text x="507.16" y="356.90" text-anchor="middle" font-size="13.6">40</text>
<text x="538.12" y="356.90" text-anchor="middle" font-size="13.6">50</text>
<text x="569.08" y="356.90" text-anchor="middle" font-size="13.6">60</text>
<text x="600.04" y="356.90" text-anchor="middle" font-size="13.6">70</text>
<text x="631.00" y="356.90" text-anchor="middle" font-size="13.6">80</text>
<text x="41.7" y="205.60" text-anchor="end" font-size="13.5" transform="translate(348.5,0)">10<tspan dy="-8.4" font-size="9.3">1</tspan></text>
<text x="41.7" y="233.68" text-anchor="end" font-size="13.5" transform="translate(348.5,0)">10<tspan dy="-8.4" font-size="9.3">0</tspan></text>
<text x="41.7" y="261.76" text-anchor="end" font-size="13.5" transform="translate(348.5,0)">10<tspan dy="-8.4" font-size="9.3">-1</tspan></text>
<text x="41.7" y="289.84" text-anchor="end" font-size="13.5" transform="translate(348.5,0)">10<tspan dy="-8.4" font-size="9.3">-2</tspan></text>
<text x="41.7" y="317.92" text-anchor="end" font-size="13.5" transform="translate(348.5,0)">10<tspan dy="-8.4" font-size="9.3">-3</tspan></text>
<text x="41.7" y="346.00" text-anchor="end" font-size="13.5" transform="translate(348.5,0)">10<tspan dy="-8.4" font-size="9.3">-4</tspan></text>
<text x="514.60" y="373.10" text-anchor="middle" font-size="14">Radius [au]</text>
<path d="M166.80,33.40H186.80" stroke="#4fa9c9" stroke-width="2.1"/>
<text y="37.30" font-size="12.2" stroke="#000" stroke-width="0.2"><tspan x="195.00" font-style="italic">t</tspan><tspan x="201.30" dy="1.1" font-size="15.5">=</tspan><tspan x="212.60" dy="-1.1">2.5</tspan><tspan x="230.60" dy="1.1" font-size="14">×</tspan><tspan x="241.80" dy="-1.1">10</tspan><tspan x="254.20" dy="-4.4" font-size="8.5">3</tspan><tspan x="261.60" dy="4.4">yr</tspan></text>
<path d="M166.80,52.60H186.80" stroke="#04578d" stroke-width="2.1"/>
<text y="56.50" font-size="12.2" stroke="#000" stroke-width="0.2"><tspan x="195.00" font-style="italic">t</tspan><tspan x="201.30" dy="1.1" font-size="15.5">=</tspan><tspan x="212.60" dy="-1.1">6.8</tspan><tspan x="230.60" dy="1.1" font-size="14">×</tspan><tspan x="241.80" dy="-1.1">10</tspan><tspan x="254.20" dy="-4.4" font-size="8.5">4</tspan><tspan x="261.60" dy="4.4">yr</tspan></text>
<path d="M166.80,72.00H186.80" stroke="#030a55" stroke-width="2.1"/>
<text y="75.90" font-size="12.2" stroke="#000" stroke-width="0.2"><tspan x="195.00" font-style="italic">t</tspan><tspan x="201.30" dy="1.1" font-size="15.5">=</tspan><tspan x="212.60" dy="-1.1">9.0</tspan><tspan x="230.60" dy="1.1" font-size="14">×</tspan><tspan x="241.80" dy="-1.1">10</tspan><tspan x="254.20" dy="-4.4" font-size="8.5">4</tspan><tspan x="261.60" dy="4.4">yr</tspan></text>
<path d="M515.30,33.40H535.30" stroke="#4fa9c9" stroke-width="2.1"/>
<text y="37.30" font-size="12.2" stroke="#000" stroke-width="0.2"><tspan x="543.50" font-style="italic">t</tspan><tspan x="549.80" dy="1.1" font-size="15.5">=</tspan><tspan x="561.10" dy="-1.1">2.5</tspan><tspan x="579.10" dy="1.1" font-size="14">×</tspan><tspan x="590.30" dy="-1.1">10</tspan><tspan x="602.70" dy="-4.4" font-size="8.5">3</tspan><tspan x="610.10" dy="4.4">yr</tspan></text>
<path d="M515.30,52.60H535.30" stroke="#04578d" stroke-width="2.1"/>
<text y="56.50" font-size="12.2" stroke="#000" stroke-width="0.2"><tspan x="543.50" font-style="italic">t</tspan><tspan x="549.80" dy="1.1" font-size="15.5">=</tspan><tspan x="561.10" dy="-1.1">6.8</tspan><tspan x="579.10" dy="1.1" font-size="14">×</tspan><tspan x="590.30" dy="-1.1">10</tspan><tspan x="602.70" dy="-4.4" font-size="8.5">4</tspan><tspan x="610.10" dy="4.4">yr</tspan></text>
<path d="M515.30,72.00H535.30" stroke="#030a55" stroke-width="2.1"/>
<text y="75.90" font-size="12.2" stroke="#000" stroke-width="0.2"><tspan x="543.50" font-style="italic">t</tspan><tspan x="549.80" dy="1.1" font-size="15.5">=</tspan><tspan x="561.10" dy="-1.1">9.0</tspan><tspan x="579.10" dy="1.1" font-size="14">×</tspan><tspan x="590.30" dy="-1.1">10</tspan><tspan x="602.70" dy="-4.4" font-size="8.5">4</tspan><tspan x="610.10" dy="4.4">yr</tspan></text>
<path d="M166.80,216.40H186.80" stroke="#4fa9c9" stroke-width="2.1"/>
<text y="220.30" font-size="12.2" stroke="#000" stroke-width="0.2"><tspan x="195.00" font-style="italic">t</tspan><tspan x="201.30" dy="1.1" font-size="15.5">=</tspan><tspan x="212.60" dy="-1.1">2.5</tspan><tspan x="230.60" dy="1.1" font-size="14">×</tspan><tspan x="241.80" dy="-1.1">10</tspan><tspan x="254.20" dy="-4.4" font-size="8.5">3</tspan><tspan x="261.60" dy="4.4">yr</tspan></text>
<path d="M166.80,235.60H186.80" stroke="#04578d" stroke-width="2.1"/>
<text y="239.50" font-size="12.2" stroke="#000" stroke-width="0.2"><tspan x="195.00" font-style="italic">t</tspan><tspan x="201.30" dy="1.1" font-size="15.5">=</tspan><tspan x="212.60" dy="-1.1">6.8</tspan><tspan x="230.60" dy="1.1" font-size="14">×</tspan><tspan x="241.80" dy="-1.1">10</tspan><tspan x="254.20" dy="-4.4" font-size="8.5">4</tspan><tspan x="261.60" dy="4.4">yr</tspan></text>
<path d="M166.80,255.00H186.80" stroke="#030a55" stroke-width="2.1"/>
<text y="258.90" font-size="12.2" stroke="#000" stroke-width="0.2"><tspan x="195.00" font-style="italic">t</tspan><tspan x="201.30" dy="1.1" font-size="15.5">=</tspan><tspan x="212.60" dy="-1.1">9.0</tspan><tspan x="230.60" dy="1.1" font-size="14">×</tspan><tspan x="241.80" dy="-1.1">10</tspan><tspan x="254.20" dy="-4.4" font-size="8.5">4</tspan><tspan x="261.60" dy="4.4">yr</tspan></text>
<path d="M515.30,216.40H535.30" stroke="#4fa9c9" stroke-width="2.1"/>
<text y="220.30" font-size="12.2" stroke="#000" stroke-width="0.2"><tspan x="543.50" font-style="italic">t</tspan><tspan x="549.80" dy="1.1" font-size="15.5">=</tspan><tspan x="561.10" dy="-1.1">2.5</tspan><tspan x="579.10" dy="1.1" font-size="14">×</tspan><tspan x="590.30" dy="-1.1">10</tspan><tspan x="602.70" dy="-4.4" font-size="8.5">3</tspan><tspan x="610.10" dy="4.4">yr</tspan></text>
<path d="M515.30,235.60H535.30" stroke="#04578d" stroke-width="2.1"/>
<text y="239.50" font-size="12.2" stroke="#000" stroke-width="0.2"><tspan x="543.50" font-style="italic">t</tspan><tspan x="549.80" dy="1.1" font-size="15.5">=</tspan><tspan x="561.10" dy="-1.1">6.8</tspan><tspan x="579.10" dy="1.1" font-size="14">×</tspan><tspan x="590.30" dy="-1.1">10</tspan><tspan x="602.70" dy="-4.4" font-size="8.5">4</tspan><tspan x="610.10" dy="4.4">yr</tspan></text>
<path d="M515.30,255.00H535.30" stroke="#030a55" stroke-width="2.1"/>
<text y="258.90" font-size="12.2" stroke="#000" stroke-width="0.2"><tspan x="543.50" font-style="italic">t</tspan><tspan x="549.80" dy="1.1" font-size="15.5">=</tspan><tspan x="561.10" dy="-1.1">9.0</tspan><tspan x="579.10" dy="1.1" font-size="14">×</tspan><tspan x="590.30" dy="-1.1">10</tspan><tspan x="602.70" dy="-4.4" font-size="8.5">4</tspan><tspan x="610.10" dy="4.4">yr</tspan></text>
<text x="166.5" y="11.8" text-anchor="middle" font-size="17">w/ initial perturbations</text>
<text x="514.80" y="11.8" text-anchor="middle" font-size="17">w/o initial perturbations</text>
<text transform="translate(12.70,86.80) rotate(-90)" text-anchor="middle" font-size="14.4">Dust surface density [g/cm<tspan dy="-6.2" font-size="9">2</tspan><tspan dy="6.2">]</tspan></text>
<g transform="translate(12.40,0) rotate(-90)" font-size="14"><text x="-300.6" y="0" font-style="italic" font-size="17" stroke="#000" stroke-width="0.12">τ</text><text x="-294.4" y="2.0" font-size="10">s</text><path d="M-286.2,-5.9H-277.2M-286.2,-2.9H-277.2" stroke="#000" stroke-width="0.85"/><text x="-274.2" y="0" font-style="italic" font-size="14.5" stroke="#000" stroke-width="0.12">t</text><text x="-268.8" y="2.0" font-size="11">stop</text><text x="-250.6" y="0" font-size="14" font-style="italic">Ω</text></g>
<text transform="translate(361.20,86.80) rotate(-90)" text-anchor="middle" font-size="14.4">Dust surface density [g/cm<tspan dy="-6.2" font-size="9">2</tspan><tspan dy="6.2">]</tspan></text>
<g transform="translate(360.90,0) rotate(-90)" font-size="14"><text x="-300.6" y="0" font-style="italic" font-size="17" stroke="#000" stroke-width="0.12">τ</text><text x="-294.4" y="2.0" font-size="10">s</text><path d="M-286.2,-5.9H-277.2M-286.2,-2.9H-277.2" stroke="#000" stroke-width="0.85"/><text x="-274.2" y="0" font-style="italic" font-size="14.5" stroke="#000" stroke-width="0.12">t</text><text x="-268.8" y="2.0" font-size="11">stop</text><text x="-250.6" y="0" font-size="14" font-style="italic">Ω</text></g>
</svg>
</body></html>
